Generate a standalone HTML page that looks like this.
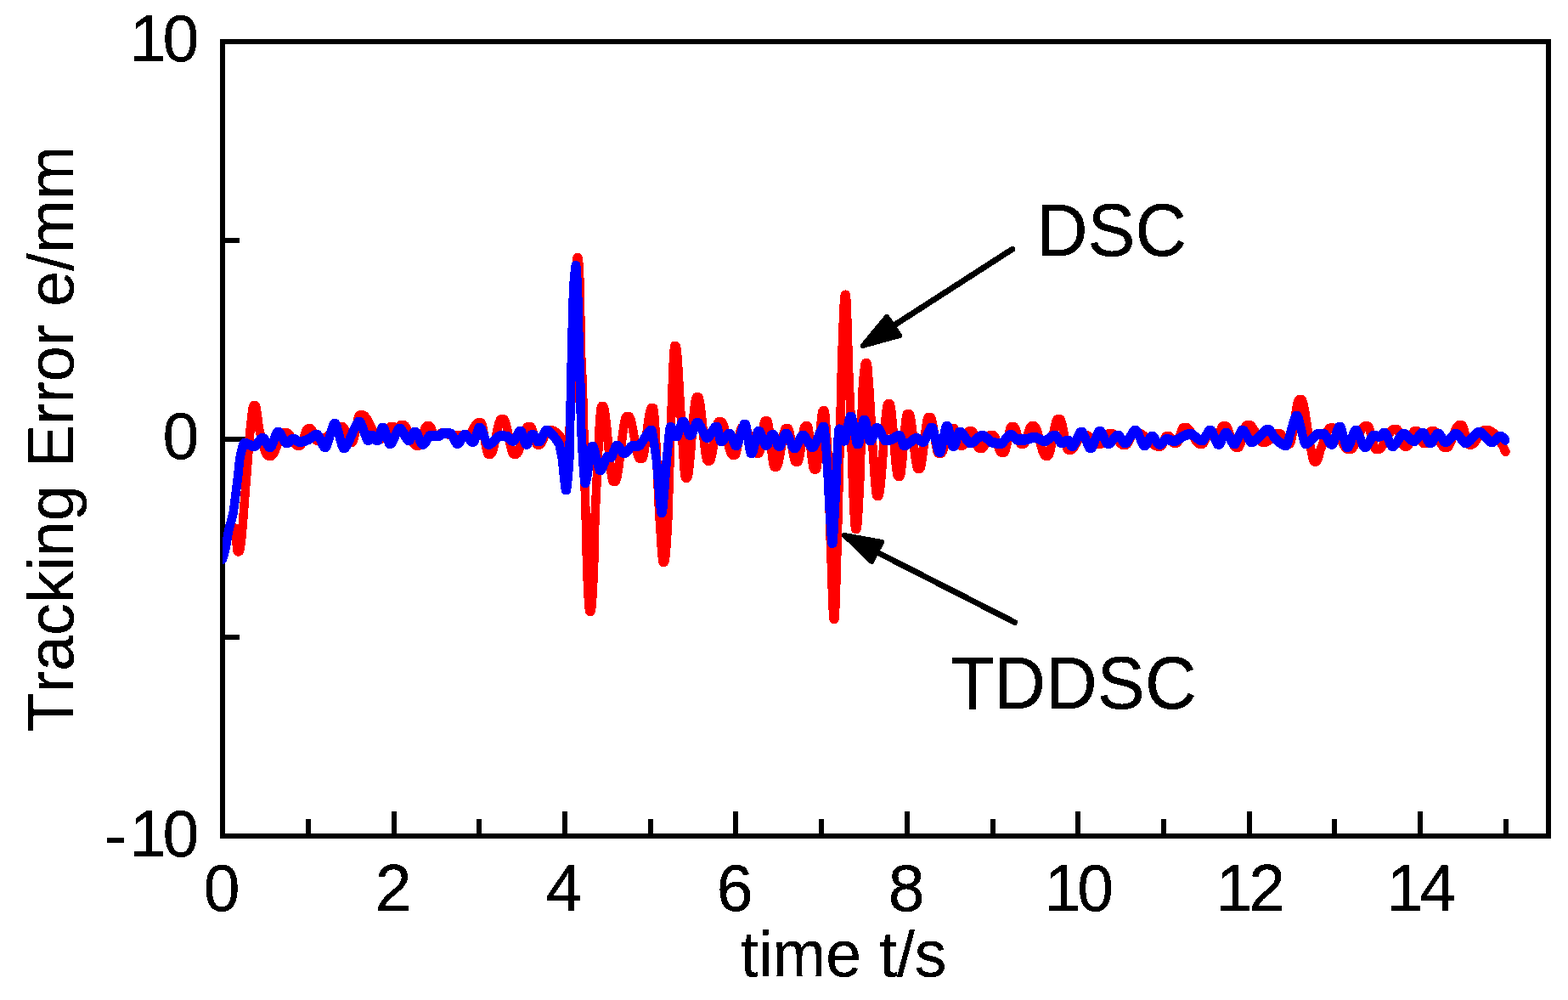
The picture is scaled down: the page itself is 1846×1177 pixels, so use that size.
<!DOCTYPE html>
<html lang="en">
<head>
<meta charset="utf-8">
<title>Tracking Error: DSC vs TDDSC</title>
<style>
html,body{margin:0;padding:0;background:#fff;}
body{width:1846px;height:1177px;overflow:hidden;}
svg{display:block;}
</style>
</head>
<body>
<svg width="1846" height="1177" viewBox="0 0 1846 1177">
<rect width="1846" height="1177" fill="#fff"/>
<defs><clipPath id="plot"><rect x="262" y="49" width="1561" height="935"/></clipPath><filter id="hard" filterUnits="userSpaceOnUse" x="0" y="0" width="1846" height="1177" color-interpolation-filters="sRGB"><feComponentTransfer><feFuncA type="discrete" tableValues="0 1"/></feComponentTransfer></filter></defs>
<rect x="262" y="49" width="1561" height="935" fill="none" stroke="#000" stroke-width="6"/>
<path d="M262.0 984 V955.0 M363.0 984 V964.0 M464.0 984 V955.0 M564.0 984 V964.0 M665.0 984 V955.0 M766.0 984 V964.0 M866.0 984 V955.0 M967.0 984 V964.0 M1068.0 984 V955.0 M1169.0 984 V964.0 M1269.0 984 V955.0 M1370.0 984 V964.0 M1471.0 984 V955.0 M1571.0 984 V964.0 M1672.0 984 V955.0 M1773.0 984 V964.0 M262 49.0 H291.0 M262 283.0 H282.0 M262 517.0 H291.0 M262 750.0 H282.0 M262 984.0 H291.0" fill="none" stroke="#000" stroke-width="6"/>
<g clip-path="url(#plot)" fill="none" stroke-width="10.5" stroke-linejoin="round" stroke-linecap="round" shape-rendering="crispEdges">
<path stroke="#f00" d="M262.0 658.4 L262.5 655.76 L263.0 653.2 L263.5 650.72 L264.0 648.34 L264.5 646.04 L265.0 643.83 L265.5 641.72 L266.0 639.7 L266.5 637.78 L267.0 635.96 L267.5 634.24 L268.0 632.61 L268.5 631.1 L269.0 629.68 L269.5 628.38 L270.0 627.18 L270.5 626.09 L271.0 625.12 L271.5 624.26 L272.0 623.51 L272.5 622.89 L273.0 622.38 L273.5 621.99 L274.0 621.72 L274.5 621.58 L274.8 621.56 L275.0 621.56 L275.5 621.56 L276.0 621.56 L276.5 621.56 L276.8 621.56 L277.0 622.04 L277.5 625.69 L278.0 631.71 L278.5 638.55 L279.0 644.72 L279.5 648.68 L279.8 649.37 L280.0 649.37 L280.5 649.37 L281.0 649.37 L281.2 649.37 L281.5 649.2 L282.0 648.16 L282.5 646.24 L283.0 643.51 L283.5 640.05 L284.0 635.92 L284.5 631.22 L285.0 626.01 L285.5 620.37 L286.0 614.38 L286.5 608.11 L287.0 601.64 L287.5 595.04 L288.0 588.39 L288.5 581.77 L289.0 575.25 L289.5 568.9 L290.0 562.81 L290.2 560 L290.5 556.88 L291.0 550.42 L291.5 543.76 L291.9 539 L292.0 537.37 L292.5 530.94 L293.0 524.47 L293.5 518.19 L294.0 512.35 L294.5 507.21 L294.6 506.38 L295.0 502.55 L295.5 497.71 L296.0 492.91 L296.5 488.36 L297.0 484.3 L297.5 480.94 L298.0 478.53 L298.5 477.27 L298.7 477.15 L299.0 477.15 L299.5 477.15 L300.0 477.15 L300.5 477.15 L300.5 477.15 L301.0 477.77 L301.5 479.54 L302.0 482.22 L302.5 485.58 L303.0 489.38 L303.5 493.37 L304.0 497.33 L304.5 501 L305.0 504.15 L305.5 506.38 L305.5 506.54 L306.0 508.56 L306.5 510.6 L307.0 512.63 L307.5 514.65 L308.0 516.66 L308.5 518.63 L309.0 520.56 L309.5 522.43 L310.0 524.24 L310.5 525.97 L311.0 527.62 L311.5 529.16 L312.0 530.6 L312.5 531.91 L313.0 533.09 L313.5 534.13 L314.0 535.02 L314.5 535.74 L315.0 536.28 L315.5 536.64 L316.0 536.79 L316.1 536.8 L316.5 536.8 L317.0 536.8 L317.5 536.8 L318.0 536.8 L318.5 536.8 L318.9 536.8 L319.0 536.8 L319.5 536.68 L320.0 536.41 L320.5 535.99 L321.0 535.43 L321.5 534.75 L322.0 533.95 L322.5 533.05 L323.0 532.06 L323.5 530.99 L324.0 529.85 L324.5 528.65 L325.0 527.4 L325.5 526.12 L326.0 524.81 L326.5 523.48 L327.0 522.15 L327.5 520.83 L328.0 519.52 L328.5 518.25 L329.0 517.02 L329.5 515.83 L330.0 514.71 L330.5 513.66 L331.0 512.7 L331.5 511.83 L332.0 511.07 L332.5 510.42 L333.0 509.9 L333.5 509.53 L334.0 509.3 L334.4 509.23 L334.5 509.23 L335.0 509.23 L335.5 509.23 L336.0 509.23 L336.5 509.23 L337.0 509.23 L337.5 509.23 L337.5 509.23 L338.0 509.3 L338.5 509.51 L339.0 509.83 L339.5 510.27 L340.0 510.8 L340.5 511.42 L341.0 512.11 L341.5 512.87 L342.0 513.68 L342.5 514.53 L343.0 515.42 L343.5 516.32 L344.0 517.22 L344.5 518.13 L345.0 519.01 L345.5 519.87 L346.0 520.69 L346.5 521.46 L347.0 522.17 L347.5 522.81 L348.0 523.36 L348.5 523.82 L349.0 524.17 L349.5 524.4 L350.0 524.51 L350.1 524.51 L350.5 524.51 L351.0 524.51 L351.5 524.51 L352.0 524.51 L352.5 524.51 L353.0 524.51 L353.1 524.51 L353.5 524.43 L354.0 524.05 L354.5 523.41 L355.0 522.53 L355.5 521.45 L356.0 520.21 L356.5 518.83 L357.0 517.35 L357.5 515.81 L358.0 514.24 L358.5 512.67 L359.0 511.14 L359.5 509.68 L360.0 508.33 L360.5 507.12 L361.0 506.09 L361.5 505.26 L362.0 504.68 L362.5 504.38 L362.7 504.34 L363.0 504.34 L363.5 504.34 L364.0 504.34 L364.5 504.34 L365.0 504.34 L365.5 504.34 L365.7 504.34 L366.0 504.44 L366.5 504.92 L367.0 505.75 L367.5 506.85 L368.0 508.17 L368.5 509.63 L369.0 511.17 L369.5 512.72 L370.0 514.22 L370.5 515.59 L371.0 516.78 L371.5 517.7 L372.0 518.31 L372.5 518.53 L372.5 518.53 L373.0 518.53 L373.5 518.53 L374.0 518.53 L374.5 518.53 L375.0 518.53 L375.5 518.53 L375.6 518.53 L376.0 518.52 L376.5 518.47 L377.0 518.39 L377.5 518.27 L378.0 518.12 L378.5 517.94 L379.0 517.73 L379.5 517.49 L380.0 517.22 L380.5 516.93 L381.0 516.61 L381.5 516.28 L382.0 515.92 L382.5 515.54 L383.0 515.14 L383.5 514.73 L384.0 514.31 L384.5 513.87 L385.0 513.42 L385.5 512.96 L386.0 512.49 L386.5 512.02 L387.0 511.54 L387.5 511.06 L388.0 510.57 L388.5 510.09 L389.0 509.6 L389.5 509.12 L390.0 508.64 L390.5 508.17 L391.0 507.71 L391.5 507.26 L392.0 506.81 L392.5 506.38 L393.0 505.96 L393.5 505.56 L394.0 505.17 L394.5 504.8 L395.0 504.45 L395.5 504.13 L396.0 503.82 L396.5 503.54 L397.0 503.29 L397.5 503.07 L398.0 502.87 L398.5 502.7 L399.0 502.57 L399.5 502.47 L400.0 502.41 L400.5 502.38 L400.6 502.38 L401.0 502.38 L401.5 502.38 L402.0 502.38 L402.5 502.38 L403.0 502.38 L403.5 502.38 L403.7 502.38 L404.0 502.46 L404.5 502.9 L405.0 503.68 L405.5 504.75 L406.0 506.06 L406.5 507.56 L407.0 509.18 L407.5 510.87 L408.0 512.59 L408.5 514.27 L409.0 515.87 L409.5 517.32 L410.0 518.58 L410.5 519.6 L411.0 520.31 L411.5 520.67 L411.7 520.7 L412.0 520.7 L412.5 520.7 L413.0 520.7 L413.5 520.7 L414.0 520.7 L414.4 520.7 L414.5 520.69 L415.0 520.33 L415.5 519.49 L416.0 518.23 L416.5 516.61 L417.0 514.68 L417.5 512.5 L418.0 510.13 L418.5 507.64 L419.0 505.07 L419.5 502.49 L420.0 499.95 L420.5 497.52 L421.0 495.25 L421.5 493.2 L422.0 491.42 L422.5 489.99 L423.0 488.95 L423.5 488.36 L423.8 488.25 L424.0 488.25 L424.5 488.25 L425.0 488.25 L425.5 488.25 L426.0 488.25 L426.5 488.25 L426.6 488.25 L427.0 488.28 L427.5 488.4 L428.0 488.62 L428.5 488.92 L429.0 489.31 L429.5 489.78 L430.0 490.31 L430.5 490.92 L431.0 491.59 L431.5 492.32 L432.0 493.1 L432.5 493.93 L433.0 494.8 L433.5 495.71 L434.0 496.65 L434.5 497.62 L435.0 498.62 L435.5 499.63 L436.0 500.66 L436.5 501.69 L437.0 502.72 L437.5 503.76 L438.0 504.79 L438.5 505.8 L439.0 506.8 L439.5 507.77 L440.0 508.72 L440.5 509.64 L441.0 510.52 L441.5 511.35 L442.0 512.14 L442.5 512.88 L443.0 513.56 L443.5 514.18 L444.0 514.73 L444.5 515.21 L445.0 515.61 L445.5 515.93 L446.0 516.17 L446.5 516.31 L447.0 516.35 L447.0 516.35 L447.5 516.35 L448.0 516.35 L448.5 516.35 L449.0 516.35 L449.5 516.35 L450.0 516.35 L450.0 516.35 L450.5 516.26 L451.0 515.98 L451.5 515.52 L452.0 514.91 L452.5 514.18 L453.0 513.33 L453.5 512.4 L454.0 511.4 L454.5 510.36 L455.0 509.29 L455.5 508.23 L456.0 507.18 L456.5 506.18 L457.0 505.24 L457.5 504.39 L458.0 503.65 L458.5 503.03 L459.0 502.56 L459.5 502.27 L460.0 502.17 L460.0 502.17 L460.5 502.17 L461.0 502.17 L461.5 502.17 L462.0 502.17 L462.5 502.17 L463.0 502.17 L463.1 502.17 L463.5 502.27 L464.0 502.6 L464.5 503.02 L465.0 503.36 L465.4 503.47 L465.5 503.47 L466.0 503.47 L466.5 503.47 L467.0 503.47 L467.5 503.47 L468.0 503.47 L468.5 503.47 L468.7 503.47 L469.0 503.36 L469.5 502.9 L470.0 502.21 L470.5 501.44 L471.0 500.76 L471.5 500.31 L471.8 500.21 L472.0 500.21 L472.5 500.21 L473.0 500.21 L473.5 500.21 L474.0 500.21 L474.5 500.21 L475.0 500.21 L475.0 500.21 L475.5 500.29 L476.0 500.52 L476.5 500.9 L477.0 501.4 L477.5 502.02 L478.0 502.76 L478.5 503.59 L479.0 504.5 L479.5 505.49 L480.0 506.55 L480.5 507.66 L481.0 508.81 L481.5 510 L482.0 511.2 L482.5 512.42 L483.0 513.64 L483.5 514.84 L484.0 516.02 L484.5 517.17 L485.0 518.28 L485.5 519.33 L486.0 520.31 L486.5 521.22 L487.0 522.04 L487.5 522.76 L488.0 523.37 L488.5 523.87 L489.0 524.23 L489.5 524.44 L490.0 524.51 L490.0 524.51 L490.5 524.51 L491.0 524.51 L491.5 524.51 L492.0 524.51 L492.5 524.51 L492.9 524.51 L493.0 524.5 L493.5 524.22 L494.0 523.62 L494.5 522.73 L495.0 521.61 L495.5 520.27 L496.0 518.77 L496.5 517.13 L497.0 515.4 L497.5 513.62 L498.0 511.83 L498.5 510.06 L499.0 508.34 L499.5 506.73 L500.0 505.26 L500.5 503.96 L501.0 502.88 L501.5 502.05 L502.0 501.51 L502.5 501.3 L502.5 501.3 L503.0 501.3 L503.5 501.3 L504.0 501.3 L504.5 501.3 L505.0 501.3 L505.5 501.3 L505.5 501.3 L506.0 501.5 L506.5 502.04 L507.0 502.84 L507.5 503.85 L508.0 505.02 L508.5 506.29 L509.0 507.6 L509.5 508.89 L510.0 510.11 L510.5 511.19 L511.0 512.08 L511.5 512.72 L512.0 513.05 L512.2 513.09 L512.5 513.09 L513.0 513.09 L513.5 513.09 L514.0 513.09 L514.5 513.09 L515.0 513.09 L515.4 513.09 L515.5 513.09 L516.0 512.9 L516.5 512.5 L517.0 511.95 L517.5 511.33 L518.0 510.69 L518.5 510.13 L519.0 509.69 L519.5 509.47 L519.7 509.45 L520.0 509.45 L520.5 509.45 L521.0 509.45 L521.5 509.45 L522.0 509.45 L522.5 509.45 L523.0 509.45 L523.1 509.45 L523.5 509.49 L524.0 509.63 L524.5 509.84 L525.0 510.11 L525.5 510.4 L526.0 510.7 L526.5 510.98 L527.0 511.21 L527.5 511.39 L527.9 511.46 L528.0 511.47 L528.5 511.53 L529.0 511.58 L529.5 511.62 L530.0 511.66 L530.5 511.69 L531.0 511.72 L531.5 511.75 L532.0 511.78 L532.5 511.8 L533.0 511.82 L533.5 511.84 L534.0 511.86 L534.5 511.88 L535.0 511.89 L535.5 511.91 L536.0 511.93 L536.5 511.96 L537.0 511.98 L537.5 512 L538.0 512.03 L538.5 512.06 L539.0 512.1 L539.5 512.14 L539.8 512.17 L540.0 512.19 L540.5 512.25 L541.0 512.33 L541.5 512.42 L542.0 512.53 L542.5 512.64 L543.0 512.75 L543.5 512.86 L544.0 512.97 L544.5 513.07 L545.0 513.15 L545.5 513.23 L546.0 513.28 L546.5 513.31 L546.8 513.31 L547.0 513.31 L547.5 513.31 L548.0 513.31 L548.5 513.31 L549.0 513.31 L549.5 513.31 L550.0 513.31 L550.1 513.31 L550.5 513.27 L551.0 513.1 L551.5 512.81 L552.0 512.41 L552.5 511.92 L553.0 511.33 L553.5 510.67 L554.0 509.94 L554.5 509.16 L555.0 508.32 L555.5 507.46 L556.0 506.56 L556.5 505.65 L557.0 504.74 L557.5 503.84 L558.0 502.95 L558.5 502.09 L559.0 501.26 L559.5 500.49 L560.0 499.77 L560.5 499.12 L561.0 498.56 L561.5 498.08 L562.0 497.7 L562.5 497.44 L563.0 497.29 L563.3 497.27 L563.5 497.27 L564.0 497.27 L564.5 497.27 L565.0 497.27 L565.5 497.27 L566.0 497.27 L566.1 497.27 L566.5 497.52 L567.0 498.39 L567.5 499.8 L568.0 501.69 L568.5 503.97 L569.0 506.57 L569.5 509.41 L570.0 512.42 L570.5 515.51 L571.0 518.61 L571.5 521.65 L572.0 524.54 L572.5 527.22 L573.0 529.6 L573.5 531.6 L574.0 533.16 L574.5 534.19 L575.0 534.61 L575.1 534.62 L575.5 534.62 L576.0 534.62 L576.5 534.62 L577.0 534.62 L577.5 534.62 L577.6 534.62 L578.0 534.47 L578.5 533.97 L579.0 533.13 L579.5 531.99 L580.0 530.59 L580.5 528.94 L581.0 527.09 L581.5 525.06 L582.0 522.89 L582.5 520.6 L583.0 518.22 L583.5 515.79 L584.0 513.34 L584.5 510.89 L585.0 508.48 L585.5 506.14 L586.0 503.9 L586.5 501.78 L587.0 499.83 L587.5 498.07 L588.0 496.52 L588.5 495.23 L589.0 494.22 L589.5 493.53 L590.0 493.18 L590.2 493.14 L590.5 493.14 L591.0 493.14 L591.5 493.14 L592.0 493.14 L592.5 493.14 L592.8 493.14 L593.0 493.19 L593.5 493.58 L594.0 494.34 L594.5 495.44 L595.0 496.84 L595.5 498.5 L596.0 500.4 L596.5 502.49 L597.0 504.75 L597.5 507.13 L598.0 509.61 L598.5 512.14 L599.0 514.7 L599.5 517.25 L600.0 519.75 L600.5 522.17 L601.0 524.47 L601.5 526.63 L602.0 528.6 L602.5 530.35 L603.0 531.85 L603.5 533.06 L604.0 533.95 L604.5 534.48 L604.9 534.62 L605.0 534.62 L605.5 534.62 L606.0 534.62 L606.5 534.62 L607.0 534.62 L607.5 534.62 L607.6 534.62 L608.0 534.53 L608.5 534.22 L609.0 533.69 L609.5 532.96 L610.0 532.05 L610.5 530.98 L611.0 529.77 L611.5 528.43 L612.0 526.98 L612.5 525.45 L613.0 523.83 L613.5 522.16 L614.0 520.45 L614.5 518.72 L615.0 516.99 L615.5 515.27 L616.0 513.58 L616.5 511.94 L617.0 510.36 L617.5 508.87 L618.0 507.48 L618.5 506.21 L619.0 505.08 L619.5 504.1 L620.0 503.29 L620.5 502.67 L621.0 502.26 L621.5 502.07 L621.6 502.06 L622.0 502.06 L622.5 502.06 L623.0 502.06 L623.5 502.06 L624.0 502.06 L624.4 502.06 L624.5 502.07 L625.0 502.37 L625.5 503.09 L626.0 504.18 L626.5 505.56 L627.0 507.19 L627.5 509 L628.0 510.92 L628.5 512.91 L629.0 514.89 L629.5 516.81 L630.0 518.61 L630.5 520.23 L631.0 521.6 L631.5 522.66 L632.0 523.36 L632.5 523.64 L632.5 523.64 L633.0 523.64 L633.5 523.64 L634.0 523.64 L634.5 523.64 L635.0 523.64 L635.4 523.64 L635.5 523.64 L636.0 523.48 L636.5 523.09 L637.0 522.49 L637.5 521.72 L638.0 520.8 L638.5 519.75 L639.0 518.6 L639.5 517.37 L640.0 516.1 L640.5 514.8 L641.0 513.5 L641.5 512.23 L642.0 511.02 L642.5 509.88 L643.0 508.85 L643.5 507.96 L644.0 507.21 L644.5 506.66 L645.0 506.31 L645.5 506.19 L645.5 506.19 L646.0 506.19 L646.5 506.19 L647.0 506.19 L647.5 506.19 L648.0 506.19 L648.5 506.19 L648.6 506.19 L649.0 506.2 L649.5 506.25 L650.0 506.33 L650.5 506.45 L651.0 506.6 L651.5 506.79 L652.0 507 L652.5 507.25 L653.0 507.54 L653.5 507.85 L654.0 508.19 L654.5 508.56 L655.0 508.96 L655.5 509.39 L656.0 509.84 L656.5 510.32 L657.0 510.82 L657.5 511.35 L658.0 511.9 L658.5 512.47 L659.0 513.06 L659.5 513.68 L660.0 514.31 L660.0 514.35 L660.5 515.26 L661.0 516.79 L661.5 518.78 L662.0 521.1 L662.5 523.6 L663.0 526.15 L663.5 528.61 L664.0 530.85 L664.5 532.74 L665.0 534.13 L665.5 534.9 L665.8 535 L666.0 535 L666.5 535 L667.0 535 L667.5 535 L667.6 535 L668.0 534.23 L668.5 531.58 L669.0 527.27 L669.5 521.55 L670.0 514.64 L670.5 506.79 L671.0 498.24 L671.5 489.23 L672.0 480 L672.5 468.14 L673.0 452.62 L673.5 435.8 L674.0 420 L674.5 404.99 L675.0 389.58 L675.5 374.67 L676.0 361.17 L676.5 350 L677.0 340.03 L677.5 330.01 L678.0 320.64 L678.5 312.6 L679.0 306.59 L679.5 303.3 L679.7 302.9 L680.0 302.9 L680.4 302.9 L680.5 303.05 L681.0 305.95 L681.5 312.21 L682.0 321.38 L682.5 333.01 L682.8 341 L683.0 350.4 L683.5 390.13 L683.8 408 L684.0 414.36 L684.5 426.01 L685.0 435.1 L685.5 446 L686.0 460.17 L686.5 476.19 L687.0 494.17 L687.1 498 L687.5 515.74 L688.0 541.59 L688.5 566.99 L688.8 580 L689.0 587.33 L689.5 603.25 L690.0 620 L690.5 643.28 L691.0 665.14 L691.1 668 L691.5 677.77 L692.0 689.23 L692.5 699.46 L693.0 708.05 L693.5 714.6 L694.0 718.68 L694.4 719.9 L694.5 719.9 L695.0 719.9 L695.3 719.9 L695.5 719.64 L696.0 717.49 L696.5 713.35 L697.0 707.44 L697.5 699.97 L698.0 691.14 L698.5 681.17 L699.0 670.27 L699.1 668 L699.5 652.76 L700.0 627.69 L700.2 620 L700.5 611.2 L701.0 598.66 L701.5 587.93 L701.9 580 L702.0 578.03 L702.5 567.89 L703.0 557.39 L703.5 546.76 L704.0 536.18 L704.5 525.87 L705.0 516.04 L705.5 506.88 L706.0 498.62 L706.5 491.44 L707.0 485.57 L707.5 481.21 L708.0 478.55 L708.4 477.8 L708.5 477.8 L709.0 477.8 L709.5 477.8 L709.9 477.8 L710.0 477.81 L710.5 478.37 L711.0 479.74 L711.5 481.85 L712.0 484.62 L712.5 487.97 L713.0 491.85 L713.5 496.16 L714.0 500.85 L714.5 505.84 L715.0 511.05 L715.5 516.41 L716.0 521.85 L716.5 527.31 L717.0 532.69 L717.5 537.94 L718.0 542.97 L718.5 547.73 L719.0 552.12 L719.5 556.09 L720.0 559.56 L720.5 562.45 L721.0 564.69 L721.5 566.21 L722.0 566.95 L722.2 567 L722.5 567 L723.0 567 L723.5 567 L724.0 567 L724.1 567 L724.5 566.84 L725.0 566.13 L725.5 564.87 L726.0 563.12 L726.5 560.93 L727.0 558.33 L727.5 555.37 L728.0 552.1 L728.5 548.56 L729.0 544.8 L729.5 540.86 L730.0 536.78 L730.5 532.61 L731.0 528.4 L731.5 524.19 L732.0 520.02 L732.5 515.94 L733.0 512 L733.5 508.24 L734.0 504.7 L734.5 501.43 L735.0 498.47 L735.5 495.87 L736.0 493.68 L736.5 491.93 L737.0 490.67 L737.5 489.96 L737.9 489.8 L738.0 489.8 L738.5 489.8 L739.0 489.8 L739.5 489.8 L740.0 489.8 L740.1 489.8 L740.5 489.92 L741.0 490.44 L741.5 491.32 L742.0 492.55 L742.5 494.08 L743.0 495.88 L743.5 497.93 L744.0 500.19 L744.5 502.62 L745.0 505.2 L745.5 507.89 L746.0 510.66 L746.5 513.48 L747.0 516.32 L747.5 519.14 L748.0 521.91 L748.5 524.6 L749.0 527.18 L749.5 529.61 L750.0 531.87 L750.5 533.92 L751.0 535.72 L751.5 537.25 L752.0 538.48 L752.5 539.36 L753.0 539.88 L753.4 540 L753.5 540 L754.0 540 L754.5 540 L755.0 540 L755.5 540 L755.7 540 L756.0 539.86 L756.5 539.12 L757.0 537.79 L757.5 535.93 L758.0 533.59 L758.5 530.85 L759.0 527.76 L759.5 524.38 L760.0 520.77 L760.5 516.99 L761.0 513.1 L761.5 509.16 L762.0 505.24 L762.5 501.38 L763.0 497.67 L763.5 494.14 L764.0 490.87 L764.5 487.91 L765.0 485.32 L765.5 483.17 L766.0 481.51 L766.5 480.41 L767.0 479.92 L767.1 479.9 L767.5 479.9 L768.0 479.9 L768.5 479.9 L768.7 479.9 L769.0 480.18 L769.5 482.26 L770.0 486.19 L770.5 491.74 L771.0 498.72 L771.5 506.9 L772.0 516.08 L772.5 526.04 L773.0 536.58 L773.5 547.47 L774.0 558.51 L774.5 569.49 L775.0 580.19 L775.5 590.41 L776.0 599.92 L776.5 608.52 L777.0 616 L777.5 623.34 L778.0 631.3 L778.5 639.35 L779.0 646.93 L779.5 653.51 L780.0 658.53 L780.5 661.47 L780.8 662 L781.0 662 L781.5 662 L781.9 662 L782.0 661.96 L782.5 660.71 L783.0 657.88 L783.5 653.63 L784.0 648.17 L784.5 641.67 L785.0 634.31 L785.5 626.27 L786.0 617.75 L786.1 616 L786.5 606.22 L787.0 589.71 L787.3 580 L787.5 573.91 L788.0 558.17 L788.5 542.15 L789.0 526.41 L789.5 511.5 L790.0 497.99 L790.1 495.5 L790.5 485.36 L791.0 472.01 L791.5 458.46 L792.0 445.33 L792.5 433.22 L793.0 422.71 L793.5 414.43 L794.0 408.96 L794.5 406.9 L794.5 406.9 L795.0 406.9 L795.5 406.9 L795.5 406.9 L796.0 407.83 L796.5 410.66 L797.0 415.15 L797.5 421.05 L798.0 428.09 L798.5 436.04 L799.0 444.62 L799.5 453.6 L800.0 462.72 L800.5 471.72 L801.0 480.35 L801.5 488.36 L802.0 495.5 L802.5 502.63 L803.0 510.57 L803.5 518.97 L804.0 527.51 L804.5 535.84 L805.0 543.62 L805.5 550.52 L806.0 556.19 L806.5 560.3 L807.0 562.51 L807.2 562.8 L807.5 562.8 L808.0 562.8 L808.5 562.8 L808.8 562.8 L809.0 562.67 L809.5 561.64 L810.0 559.64 L810.5 556.78 L811.0 553.15 L811.5 548.85 L812.0 543.97 L812.5 538.62 L813.0 532.89 L813.5 526.88 L814.0 520.68 L814.5 514.4 L815.0 508.13 L815.5 501.96 L816.0 495.99 L816.5 490.33 L817.0 485.07 L817.5 480.3 L818.0 476.13 L818.5 472.64 L819.0 469.95 L819.5 468.13 L820.0 467.3 L820.1 467.26 L820.5 467.26 L821.0 467.26 L821.5 467.26 L822.0 467.26 L822.0 467.26 L822.5 467.77 L823.0 469.1 L823.5 471.18 L824.0 473.92 L824.5 477.23 L825.0 481.05 L825.5 485.28 L826.0 489.84 L826.5 494.66 L827.0 499.64 L827.5 504.71 L828.0 509.78 L828.5 514.78 L829.0 519.62 L829.5 524.21 L830.0 528.48 L830.5 532.34 L831.0 535.71 L831.5 538.51 L832.0 540.65 L832.5 542.06 L833.0 542.66 L833.1 542.67 L833.5 542.67 L834.0 542.67 L834.5 542.67 L835.0 542.67 L835.2 542.67 L835.5 542.6 L836.0 542.06 L836.5 541.04 L837.0 539.59 L837.5 537.76 L838.0 535.6 L838.5 533.16 L839.0 530.49 L839.5 527.63 L840.0 524.64 L840.5 521.57 L841.0 518.46 L841.5 515.37 L842.0 512.34 L842.5 509.43 L843.0 506.68 L843.5 504.15 L844.0 501.87 L844.5 499.91 L845.0 498.31 L845.5 497.13 L846.0 496.4 L846.5 496.18 L846.5 496.18 L847.0 496.18 L847.5 496.18 L848.0 496.18 L848.5 496.18 L849.0 496.18 L849.0 496.18 L849.5 496.36 L850.0 496.83 L850.5 497.57 L851.0 498.56 L851.5 499.77 L852.0 501.18 L852.5 502.76 L853.0 504.5 L853.5 506.36 L854.0 508.34 L854.5 510.39 L855.0 512.51 L855.5 514.67 L856.0 516.83 L856.5 518.99 L857.0 521.12 L857.5 523.19 L858.0 525.18 L858.5 527.07 L859.0 528.83 L859.5 530.44 L860.0 531.88 L860.5 533.13 L861.0 534.16 L861.5 534.94 L862.0 535.47 L862.5 535.7 L862.6 535.71 L863.0 535.71 L863.5 535.71 L864.0 535.71 L864.5 535.71 L865.0 535.71 L865.2 535.71 L865.5 535.58 L866.0 534.85 L866.5 533.57 L867.0 531.8 L867.5 529.64 L868.0 527.16 L868.5 524.45 L869.0 521.6 L869.5 518.68 L870.0 515.77 L870.5 512.97 L871.0 510.36 L871.5 508.01 L872.0 506.01 L872.5 504.44 L873.0 503.39 L873.5 502.94 L873.6 502.93 L874.0 502.93 L874.5 502.93 L875.0 502.93 L875.5 502.93 L876.0 502.93 L876.3 502.93 L876.5 502.96 L877.0 503.16 L877.5 503.56 L878.0 504.15 L878.5 504.89 L879.0 505.79 L879.5 506.82 L880.0 507.97 L880.5 509.23 L881.0 510.57 L881.5 512 L882.0 513.48 L882.5 515.01 L883.0 516.57 L883.5 518.14 L884.0 519.72 L884.5 521.28 L885.0 522.81 L885.5 524.3 L886.0 525.73 L886.5 527.09 L887.0 528.35 L887.5 529.52 L888.0 530.56 L888.5 531.48 L889.0 532.24 L889.5 532.84 L890.0 533.27 L890.5 533.5 L890.8 533.54 L891.0 533.54 L891.5 533.54 L892.0 533.54 L892.5 533.54 L893.0 533.54 L893.4 533.54 L893.5 533.5 L894.0 532.77 L894.5 531.19 L895.0 528.9 L895.5 526.05 L896.0 522.75 L896.5 519.15 L897.0 515.38 L897.5 511.57 L898.0 507.87 L898.5 504.41 L899.0 501.31 L899.5 498.72 L900.0 496.77 L900.5 495.6 L900.9 495.31 L901.0 495.31 L901.5 495.31 L902.0 495.31 L902.5 495.31 L903.0 495.31 L903.0 495.31 L903.5 495.72 L904.0 497.07 L904.5 499.23 L905.0 502.1 L905.5 505.56 L906.0 509.47 L906.5 513.74 L907.0 518.23 L907.5 522.83 L908.0 527.42 L908.5 531.88 L909.0 536.09 L909.5 539.93 L910.0 543.29 L910.5 546.04 L911.0 548.07 L911.5 549.26 L911.9 549.52 L912.0 549.52 L912.5 549.52 L913.0 549.52 L913.5 549.52 L914.0 549.52 L914.1 549.52 L914.5 549.34 L915.0 548.67 L915.5 547.55 L916.0 546.02 L916.5 544.13 L917.0 541.94 L917.5 539.48 L918.0 536.82 L918.5 533.98 L919.0 531.04 L919.5 528.03 L920.0 525 L920.5 522 L921.0 519.07 L921.5 516.28 L922.0 513.66 L922.5 511.26 L923.0 509.13 L923.5 507.33 L924.0 505.89 L924.5 504.87 L925.0 504.32 L925.3 504.23 L925.5 504.23 L926.0 504.23 L926.5 504.23 L927.0 504.23 L927.5 504.23 L927.7 504.23 L928.0 504.38 L928.5 505.15 L929.0 506.51 L929.5 508.38 L930.0 510.68 L930.5 513.33 L931.0 516.25 L931.5 519.36 L932.0 522.58 L932.5 525.84 L933.0 529.05 L933.5 532.13 L934.0 535 L934.5 537.59 L935.0 539.81 L935.5 541.58 L936.0 542.83 L936.5 543.47 L936.7 543.54 L937.0 543.54 L937.5 543.54 L938.0 543.54 L938.5 543.54 L939.0 543.54 L939.1 543.54 L939.5 543.26 L940.0 542.3 L940.5 540.73 L941.0 538.64 L941.5 536.11 L942.0 533.22 L942.5 530.06 L943.0 526.71 L943.5 523.25 L944.0 519.78 L944.5 516.37 L945.0 513.11 L945.5 510.08 L946.0 507.37 L946.5 505.05 L947.0 503.22 L947.5 501.96 L948.0 501.34 L948.2 501.3 L948.5 501.3 L949.0 501.3 L949.5 501.3 L950.0 501.3 L950.4 501.3 L950.5 501.34 L951.0 502.17 L951.5 503.94 L952.0 506.53 L952.5 509.79 L953.0 513.6 L953.5 517.82 L954.0 522.31 L954.5 526.93 L955.0 531.55 L955.5 536.03 L956.0 540.24 L956.5 544.04 L957.0 547.29 L957.5 549.86 L958.0 551.62 L958.5 552.42 L958.6 552.46 L959.0 552.46 L959.5 552.46 L960.0 552.46 L960.5 552.46 L960.6 552.46 L961.0 551.92 L961.5 550.11 L962.0 547.19 L962.5 543.32 L963.0 538.67 L963.5 533.42 L964.0 527.72 L964.5 521.75 L965.0 515.66 L965.5 509.64 L966.0 503.84 L966.5 498.44 L967.0 493.59 L967.5 489.47 L968.0 486.25 L968.5 484.09 L969.0 483.15 L969.1 483.13 L969.5 483.13 L970.0 483.13 L970.4 483.13 L970.5 483.2 L971.0 485.28 L971.5 489.81 L972.0 496.09 L972.5 503.46 L973.0 511.24 L973.4 517.3 L973.5 518.78 L974.0 526.77 L974.5 535.88 L975.0 546.29 L975.5 558.22 L975.6 560.8 L976.0 573.61 L976.5 593.54 L977.0 613.27 L977.2 620 L977.5 628.91 L978.0 642.36 L978.3 650 L978.5 655.26 L979.0 669.74 L979.5 685.04 L980.0 699.87 L980.5 712.9 L981.0 722.82 L981.5 728.32 L981.7 729 L982.0 729 L982.2 729 L982.5 728.02 L983.0 721.67 L983.5 710.6 L984.0 696.2 L984.5 679.87 L985.0 662.98 L985.4 650 L985.5 646.74 L986.0 627.79 L986.2 620 L986.5 608.59 L987.0 589.43 L987.5 570 L988.0 550.23 L988.5 530.19 L989.0 510.01 L989.5 489.84 L989.9 473.8 L990.0 469.72 L990.5 448.31 L991.0 430 L991.5 415.22 L992.0 400.47 L992.5 386.36 L993.0 373.5 L993.5 362.5 L994.0 353.96 L994.5 348.49 L995.0 346.7 L995.0 346.7 L995.5 346.7 L995.6 346.7 L996.0 348.55 L996.5 355.7 L997.0 367.11 L997.5 381.59 L998.0 397.92 L998.5 414.93 L999.0 431.41 L999.5 446.17 L1000.0 458 L1000.5 466.56 L1000.9 473.8 L1001.0 476.01 L1001.5 489.36 L1002.0 505.49 L1002.5 522.98 L1003.0 540.42 L1003.5 556.39 L1004.0 569.46 L1004.1 571.6 L1004.5 579.99 L1005.0 590.64 L1005.5 600.81 L1006.0 609.82 L1006.5 616.98 L1007.0 621.59 L1007.4 623 L1007.5 623 L1008.0 623 L1008.2 623 L1008.5 622.62 L1009.0 619.87 L1009.5 614.83 L1010.0 607.98 L1010.5 599.77 L1011.0 590.66 L1011.5 581.12 L1012.0 571.6 L1012.5 559.94 L1013.0 544.58 L1013.5 526.91 L1014.0 508.3 L1014.5 490.12 L1015.0 473.76 L1015.5 460.59 L1016.0 452 L1016.5 446.27 L1017.0 440.91 L1017.5 436.13 L1018.0 432.14 L1018.5 429.14 L1019.0 427.34 L1019.4 426.9 L1019.5 426.9 L1020.0 426.9 L1020.4 426.9 L1020.5 427 L1021.0 429.32 L1021.5 434.02 L1022.0 440.17 L1022.5 446.87 L1022.9 452 L1023.0 453.24 L1023.5 460.16 L1024.0 468.07 L1024.5 476.68 L1025.0 485.68 L1025.5 494.8 L1026.0 503.74 L1026.5 512.2 L1027.0 519.9 L1027.2 522.7 L1027.5 526.87 L1028.0 534.22 L1028.5 541.83 L1029.0 549.49 L1029.5 556.94 L1030.0 563.94 L1030.5 570.27 L1031.0 575.67 L1031.5 579.92 L1032.0 582.76 L1032.5 583.97 L1032.6 584 L1033.0 584 L1033.5 584 L1034.0 584 L1034.1 584 L1034.5 583.61 L1035.0 582.1 L1035.5 579.54 L1036.0 576.05 L1036.5 571.73 L1037.0 566.69 L1037.5 561.03 L1038.0 554.87 L1038.5 548.31 L1039.0 541.46 L1039.5 534.42 L1040.0 527.32 L1040.5 520.24 L1041.0 513.3 L1041.5 506.61 L1042.0 500.28 L1042.5 494.41 L1043.0 489.11 L1043.5 484.48 L1044.0 480.65 L1044.5 477.7 L1045.0 475.76 L1045.5 474.92 L1045.6 474.9 L1046.0 474.9 L1046.5 474.9 L1047.0 474.9 L1047.3 474.9 L1047.5 475.04 L1048.0 476.19 L1048.5 478.41 L1049.0 481.57 L1049.5 485.56 L1050.0 490.24 L1050.5 495.5 L1051.0 501.21 L1051.5 507.26 L1052.0 513.51 L1052.5 519.85 L1053.0 526.16 L1053.5 532.3 L1054.0 538.16 L1054.5 543.62 L1055.0 548.55 L1055.5 552.83 L1056.0 556.33 L1056.5 558.94 L1057.0 560.54 L1057.4 561 L1057.5 561 L1058.0 561 L1058.5 561 L1059.0 561 L1059.2 561 L1059.5 560.75 L1060.0 559.35 L1060.5 556.86 L1061.0 553.41 L1061.5 549.15 L1062.0 544.24 L1062.5 538.81 L1063.0 533.01 L1063.5 526.99 L1064.0 520.91 L1064.5 514.89 L1065.0 509.09 L1065.5 503.66 L1066.0 498.75 L1066.5 494.49 L1067.0 491.04 L1067.5 488.55 L1068.0 487.15 L1068.3 486.9 L1068.5 486.9 L1069.0 486.9 L1069.5 486.9 L1070.0 486.9 L1070.2 486.9 L1070.5 487.05 L1071.0 487.95 L1071.5 489.61 L1072.0 491.94 L1072.5 494.85 L1073.0 498.26 L1073.5 502.09 L1074.0 506.25 L1074.5 510.66 L1075.0 515.22 L1075.5 519.87 L1076.0 524.5 L1076.5 529.04 L1077.0 533.4 L1077.5 537.5 L1078.0 541.26 L1078.5 544.58 L1079.0 547.38 L1079.5 549.58 L1080.0 551.09 L1080.5 551.84 L1080.7 551.9 L1081.0 551.9 L1081.5 551.9 L1082.0 551.9 L1082.5 551.9 L1082.7 551.9 L1083.0 551.79 L1083.5 550.97 L1084.0 549.44 L1084.5 547.26 L1085.0 544.53 L1085.5 541.33 L1086.0 537.72 L1086.5 533.8 L1087.0 529.65 L1087.5 525.34 L1088.0 520.96 L1088.5 516.59 L1089.0 512.31 L1089.5 508.19 L1090.0 504.33 L1090.5 500.8 L1091.0 497.68 L1091.5 495.05 L1092.0 493 L1092.5 491.6 L1093.0 490.94 L1093.2 490.9 L1093.5 490.9 L1094.0 490.9 L1094.5 490.9 L1095.0 490.9 L1095.4 490.9 L1095.5 490.92 L1096.0 491.42 L1096.5 492.52 L1097.0 494.15 L1097.5 496.23 L1098.0 498.7 L1098.5 501.49 L1099.0 504.52 L1099.5 507.72 L1100.0 511.02 L1100.5 514.35 L1101.0 517.63 L1101.5 520.8 L1102.0 523.79 L1102.5 526.52 L1103.0 528.92 L1103.5 530.92 L1104.0 532.44 L1104.5 533.43 L1105.0 533.8 L1105.0 533.8 L1105.5 533.8 L1106.0 533.8 L1106.5 533.8 L1107.0 533.8 L1107.5 533.8 L1107.6 533.8 L1108.0 533.7 L1108.5 533.34 L1109.0 532.73 L1109.5 531.89 L1110.0 530.85 L1110.5 529.63 L1111.0 528.26 L1111.5 526.75 L1112.0 525.14 L1112.5 523.44 L1113.0 521.68 L1113.5 519.89 L1114.0 518.08 L1114.5 516.27 L1115.0 514.51 L1115.5 512.8 L1116.0 511.16 L1116.5 509.64 L1117.0 508.23 L1117.5 506.98 L1118.0 505.9 L1118.5 505.02 L1119.0 504.36 L1119.5 503.95 L1120.0 503.8 L1120.0 503.8 L1120.5 503.8 L1121.0 503.8 L1121.5 503.8 L1122.0 503.8 L1122.5 503.8 L1122.8 503.8 L1123.0 503.85 L1123.5 504.32 L1124.0 505.23 L1124.5 506.5 L1125.0 508.07 L1125.5 509.87 L1126.0 511.82 L1126.5 513.85 L1127.0 515.89 L1127.5 517.87 L1128.0 519.72 L1128.5 521.36 L1129.0 522.74 L1129.5 523.76 L1130.0 524.37 L1130.4 524.51 L1130.5 524.51 L1131.0 524.51 L1131.5 524.51 L1132.0 524.51 L1132.5 524.51 L1133.0 524.51 L1133.2 524.51 L1133.5 524.44 L1134.0 524.03 L1134.5 523.29 L1135.0 522.28 L1135.5 521.05 L1136.0 519.64 L1136.5 518.11 L1137.0 516.51 L1137.5 514.89 L1138.0 513.3 L1138.5 511.8 L1139.0 510.43 L1139.5 509.24 L1140.0 508.29 L1140.5 507.63 L1141.0 507.3 L1141.2 507.28 L1141.5 507.28 L1142.0 507.28 L1142.5 507.28 L1143.0 507.28 L1143.5 507.28 L1144.0 507.28 L1144.1 507.28 L1144.5 507.42 L1145.0 507.89 L1145.5 508.65 L1146.0 509.67 L1146.5 510.91 L1147.0 512.31 L1147.5 513.85 L1148.0 515.48 L1148.5 517.15 L1149.0 518.84 L1149.5 520.49 L1150.0 522.08 L1150.5 523.54 L1151.0 524.86 L1151.5 525.98 L1152.0 526.86 L1152.5 527.46 L1153.0 527.75 L1153.2 527.77 L1153.5 527.77 L1154.0 527.77 L1154.5 527.77 L1155.0 527.77 L1155.5 527.77 L1156.0 527.77 L1156.1 527.77 L1156.5 527.7 L1157.0 527.43 L1157.5 526.96 L1158.0 526.32 L1158.5 525.53 L1159.0 524.62 L1159.5 523.62 L1160.0 522.54 L1160.5 521.4 L1161.0 520.24 L1161.5 519.07 L1162.0 517.92 L1162.5 516.81 L1163.0 515.77 L1163.5 514.81 L1164.0 513.97 L1164.5 513.26 L1165.0 512.71 L1165.5 512.34 L1166.0 512.18 L1166.1 512.17 L1166.5 512.17 L1167.0 512.17 L1167.5 512.17 L1168.0 512.17 L1168.5 512.17 L1169.0 512.17 L1169.1 512.17 L1169.5 512.26 L1170.0 512.63 L1170.5 513.24 L1171.0 514.07 L1171.5 515.08 L1172.0 516.25 L1172.5 517.55 L1173.0 518.95 L1173.5 520.41 L1174.0 521.92 L1174.5 523.43 L1175.0 524.93 L1175.5 526.38 L1176.0 527.74 L1176.5 529 L1177.0 530.12 L1177.5 531.08 L1178.0 531.83 L1178.5 532.36 L1179.0 532.64 L1179.2 532.67 L1179.5 532.67 L1180.0 532.67 L1180.5 532.67 L1181.0 532.67 L1181.5 532.67 L1182.0 532.67 L1182.0 532.67 L1182.5 532.36 L1183.0 531.54 L1183.5 530.27 L1184.0 528.61 L1184.5 526.64 L1185.0 524.42 L1185.5 522.01 L1186.0 519.48 L1186.5 516.9 L1187.0 514.34 L1187.5 511.85 L1188.0 509.51 L1188.5 507.38 L1189.0 505.53 L1189.5 504.02 L1190.0 502.92 L1190.5 502.29 L1190.8 502.17 L1191.0 502.17 L1191.5 502.17 L1192.0 502.17 L1192.5 502.17 L1193.0 502.17 L1193.5 502.17 L1193.5 502.17 L1194.0 502.35 L1194.5 502.9 L1195.0 503.77 L1195.5 504.92 L1196.0 506.29 L1196.5 507.84 L1197.0 509.51 L1197.5 511.27 L1198.0 513.06 L1198.5 514.83 L1199.0 516.53 L1199.5 518.12 L1200.0 519.55 L1200.5 520.76 L1201.0 521.72 L1201.5 522.36 L1202.0 522.65 L1202.1 522.66 L1202.5 522.66 L1203.0 522.66 L1203.5 522.66 L1204.0 522.66 L1204.5 522.66 L1205.0 522.66 L1205.0 522.66 L1205.5 522.47 L1206.0 521.97 L1206.5 521.21 L1207.0 520.2 L1207.5 519 L1208.0 517.64 L1208.5 516.15 L1209.0 514.56 L1209.5 512.93 L1210.0 511.27 L1210.5 509.62 L1211.0 508.03 L1211.5 506.52 L1212.0 505.14 L1212.5 503.91 L1213.0 502.88 L1213.5 502.08 L1214.0 501.54 L1214.5 501.31 L1214.6 501.3 L1215.0 501.3 L1215.5 501.3 L1216.0 501.3 L1216.5 501.3 L1217.0 501.3 L1217.4 501.3 L1217.5 501.31 L1218.0 501.5 L1218.5 501.96 L1219.0 502.66 L1219.5 503.59 L1220.0 504.71 L1220.5 506 L1221.0 507.46 L1221.5 509.05 L1222.0 510.75 L1222.5 512.55 L1223.0 514.42 L1223.5 516.34 L1224.0 518.29 L1224.5 520.24 L1225.0 522.19 L1225.5 524.1 L1226.0 525.95 L1226.5 527.73 L1227.0 529.41 L1227.5 530.97 L1228.0 532.4 L1228.5 533.66 L1229.0 534.74 L1229.5 535.61 L1230.0 536.26 L1230.5 536.66 L1231.0 536.8 L1231.0 536.8 L1231.5 536.8 L1232.0 536.8 L1232.5 536.8 L1233.0 536.8 L1233.5 536.8 L1233.6 536.8 L1234.0 536.63 L1234.5 536.03 L1235.0 535.02 L1235.5 533.65 L1236.0 531.95 L1236.5 529.98 L1237.0 527.76 L1237.5 525.35 L1238.0 522.78 L1238.5 520.09 L1239.0 517.32 L1239.5 514.52 L1240.0 511.73 L1240.5 508.98 L1241.0 506.33 L1241.5 503.8 L1242.0 501.44 L1242.5 499.3 L1243.0 497.41 L1243.5 495.81 L1244.0 494.55 L1244.5 493.67 L1245.0 493.2 L1245.3 493.14 L1245.5 493.14 L1246.0 493.14 L1246.5 493.14 L1247.0 493.14 L1247.5 493.14 L1247.7 493.14 L1248.0 493.21 L1248.5 493.74 L1249.0 494.73 L1249.5 496.13 L1250.0 497.88 L1250.5 499.94 L1251.0 502.24 L1251.5 504.73 L1252.0 507.36 L1252.5 510.07 L1253.0 512.8 L1253.5 515.51 L1254.0 518.13 L1254.5 520.62 L1255.0 522.91 L1255.5 524.95 L1256.0 526.69 L1256.5 528.08 L1257.0 529.05 L1257.5 529.56 L1257.7 529.62 L1258.0 529.62 L1258.5 529.62 L1259.0 529.62 L1259.5 529.62 L1260.0 529.62 L1260.5 529.62 L1260.5 529.62 L1261.0 529.57 L1261.5 529.39 L1262.0 529.1 L1262.5 528.7 L1263.0 528.21 L1263.5 527.63 L1264.0 526.98 L1264.5 526.25 L1265.0 525.47 L1265.5 524.63 L1266.0 523.76 L1266.5 522.85 L1267.0 521.92 L1267.5 520.98 L1268.0 520.04 L1268.5 519.1 L1269.0 518.18 L1269.5 517.28 L1270.0 516.41 L1270.5 515.59 L1271.0 514.82 L1271.5 514.11 L1272.0 513.47 L1272.5 512.91 L1273.0 512.44 L1273.5 512.07 L1274.0 511.81 L1274.5 511.66 L1274.8 511.63 L1275.0 511.63 L1275.5 511.63 L1276.0 511.63 L1276.5 511.63 L1277.0 511.63 L1277.5 511.63 L1278.0 511.63 L1278.0 511.63 L1278.5 511.67 L1279.0 511.78 L1279.5 511.97 L1280.0 512.22 L1280.5 512.54 L1281.0 512.91 L1281.5 513.33 L1282.0 513.79 L1282.5 514.29 L1283.0 514.83 L1283.5 515.38 L1284.0 515.96 L1284.5 516.55 L1285.0 517.14 L1285.5 517.74 L1286.0 518.33 L1286.5 518.91 L1287.0 519.48 L1287.5 520.02 L1288.0 520.53 L1288.5 521.01 L1289.0 521.44 L1289.5 521.83 L1290.0 522.17 L1290.5 522.45 L1291.0 522.67 L1291.5 522.81 L1292.0 522.88 L1292.2 522.88 L1292.5 522.88 L1293.0 522.88 L1293.5 522.88 L1294.0 522.88 L1294.5 522.88 L1295.0 522.88 L1295.4 522.88 L1295.5 522.87 L1296.0 522.75 L1296.5 522.47 L1297.0 522.06 L1297.5 521.52 L1298.0 520.89 L1298.5 520.16 L1299.0 519.37 L1299.5 518.52 L1300.0 517.63 L1300.5 516.73 L1301.0 515.82 L1301.5 514.92 L1302.0 514.06 L1302.5 513.24 L1303.0 512.48 L1303.5 511.81 L1304.0 511.23 L1304.5 510.77 L1305.0 510.43 L1305.5 510.25 L1305.8 510.21 L1306.0 510.21 L1306.5 510.21 L1307.0 510.21 L1307.5 510.21 L1308.0 510.21 L1308.5 510.21 L1309.0 510.21 L1309.0 510.21 L1309.5 510.27 L1310.0 510.43 L1310.5 510.7 L1311.0 511.06 L1311.5 511.5 L1312.0 512.01 L1312.5 512.59 L1313.0 513.22 L1313.5 513.9 L1314.0 514.62 L1314.5 515.36 L1315.0 516.12 L1315.5 516.89 L1316.0 517.67 L1316.5 518.43 L1317.0 519.18 L1317.5 519.91 L1318.0 520.59 L1318.5 521.24 L1319.0 521.83 L1319.5 522.35 L1320.0 522.81 L1320.5 523.19 L1321.0 523.48 L1321.5 523.66 L1322.0 523.75 L1322.1 523.75 L1322.5 523.75 L1323.0 523.75 L1323.5 523.75 L1324.0 523.75 L1324.5 523.75 L1325.0 523.75 L1325.3 523.75 L1325.5 523.73 L1326.0 523.54 L1326.5 523.18 L1327.0 522.66 L1327.5 522.01 L1328.0 521.24 L1328.5 520.38 L1329.0 519.44 L1329.5 518.44 L1330.0 517.41 L1330.5 516.35 L1331.0 515.29 L1331.5 514.26 L1332.0 513.26 L1332.5 512.32 L1333.0 511.45 L1333.5 510.68 L1334.0 510.02 L1334.5 509.5 L1335.0 509.13 L1335.5 508.94 L1335.8 508.91 L1336.0 508.91 L1336.5 508.91 L1337.0 508.91 L1337.5 508.91 L1338.0 508.91 L1338.5 508.91 L1339.0 508.91 L1339.0 508.91 L1339.5 508.93 L1340.0 509 L1340.5 509.1 L1341.0 509.24 L1341.5 509.41 L1342.0 509.62 L1342.5 509.86 L1343.0 510.13 L1343.5 510.42 L1344.0 510.75 L1344.5 511.1 L1345.0 511.47 L1345.5 511.86 L1346.0 512.27 L1346.5 512.7 L1347.0 513.14 L1347.5 513.6 L1348.0 514.07 L1348.5 514.56 L1349.0 515.05 L1349.5 515.55 L1350.0 516.05 L1350.5 516.56 L1351.0 517.08 L1351.5 517.59 L1352.0 518.1 L1352.5 518.61 L1353.0 519.11 L1353.5 519.61 L1354.0 520.1 L1354.5 520.58 L1355.0 521.05 L1355.5 521.5 L1356.0 521.94 L1356.5 522.37 L1357.0 522.77 L1357.5 523.16 L1358.0 523.52 L1358.5 523.86 L1359.0 524.18 L1359.5 524.47 L1360.0 524.73 L1360.5 524.95 L1361.0 525.15 L1361.5 525.32 L1362.0 525.44 L1362.5 525.54 L1363.0 525.59 L1363.4 525.6 L1363.5 525.6 L1364.0 525.6 L1364.5 525.6 L1365.0 525.6 L1365.5 525.6 L1366.0 525.6 L1366.5 525.6 L1366.6 525.6 L1367.0 525.45 L1367.5 524.94 L1368.0 524.15 L1368.5 523.12 L1369.0 521.92 L1369.5 520.61 L1370.0 519.25 L1370.5 517.9 L1371.0 516.61 L1371.5 515.45 L1372.0 514.48 L1372.5 513.76 L1373.0 513.34 L1373.3 513.26 L1373.5 513.26 L1374.0 513.26 L1374.5 513.26 L1375.0 513.26 L1375.5 513.26 L1376.0 513.26 L1376.4 513.26 L1376.5 513.27 L1377.0 513.54 L1377.5 514.13 L1378.0 514.97 L1378.5 515.99 L1379.0 517.11 L1379.5 518.26 L1380.0 519.36 L1380.5 520.33 L1381.0 521.11 L1381.5 521.62 L1382.0 521.79 L1382.0 521.79 L1382.5 521.79 L1383.0 521.79 L1383.5 521.79 L1384.0 521.79 L1384.5 521.79 L1385.0 521.79 L1385.0 521.79 L1385.5 521.59 L1386.0 521.05 L1386.5 520.22 L1387.0 519.14 L1387.5 517.86 L1388.0 516.42 L1388.5 514.87 L1389.0 513.25 L1389.5 511.61 L1390.0 510 L1390.5 508.45 L1391.0 507.02 L1391.5 505.75 L1392.0 504.68 L1392.5 503.85 L1393.0 503.33 L1393.5 503.14 L1393.5 503.14 L1394.0 503.14 L1394.5 503.14 L1395.0 503.14 L1395.5 503.14 L1396.0 503.14 L1396.5 503.14 L1396.5 503.14 L1397.0 503.19 L1397.5 503.36 L1398.0 503.62 L1398.5 503.98 L1399.0 504.42 L1399.5 504.95 L1400.0 505.55 L1400.5 506.21 L1401.0 506.93 L1401.5 507.7 L1402.0 508.51 L1402.5 509.36 L1403.0 510.23 L1403.5 511.13 L1404.0 512.05 L1404.5 512.96 L1405.0 513.88 L1405.5 514.79 L1406.0 515.69 L1406.5 516.56 L1407.0 517.41 L1407.5 518.21 L1408.0 518.98 L1408.5 519.69 L1409.0 520.34 L1409.5 520.93 L1410.0 521.44 L1410.5 521.88 L1411.0 522.22 L1411.5 522.47 L1412.0 522.62 L1412.4 522.66 L1412.5 522.66 L1413.0 522.66 L1413.5 522.66 L1414.0 522.66 L1414.5 522.66 L1415.0 522.66 L1415.5 522.66 L1415.5 522.66 L1416.0 522.52 L1416.5 522.14 L1417.0 521.53 L1417.5 520.74 L1418.0 519.79 L1418.5 518.72 L1419.0 517.56 L1419.5 516.34 L1420.0 515.08 L1420.5 513.84 L1421.0 512.62 L1421.5 511.47 L1422.0 510.42 L1422.5 509.49 L1423.0 508.73 L1423.5 508.16 L1424.0 507.81 L1424.4 507.71 L1424.5 507.71 L1425.0 507.71 L1425.5 507.71 L1426.0 507.71 L1426.5 507.71 L1427.0 507.71 L1427.5 507.71 L1427.5 507.71 L1428.0 508.25 L1428.5 509.47 L1429.0 511.1 L1429.5 512.84 L1430.0 514.42 L1430.5 515.54 L1431.0 515.92 L1431.0 515.92 L1431.5 515.92 L1432.0 515.92 L1432.5 515.92 L1433.0 515.92 L1433.5 515.92 L1433.9 515.92 L1434.0 515.91 L1434.5 515.5 L1435.0 514.57 L1435.5 513.24 L1436.0 511.62 L1436.5 509.81 L1437.0 507.93 L1437.5 506.1 L1438.0 504.41 L1438.5 502.99 L1439.0 501.94 L1439.5 501.37 L1439.7 501.3 L1440.0 501.3 L1440.5 501.3 L1441.0 501.3 L1441.5 501.3 L1442.0 501.3 L1442.5 501.3 L1442.6 501.3 L1443.0 501.37 L1443.5 501.68 L1444.0 502.19 L1444.5 502.9 L1445.0 503.79 L1445.5 504.82 L1446.0 505.99 L1446.5 507.28 L1447.0 508.65 L1447.5 510.1 L1448.0 511.6 L1448.5 513.13 L1449.0 514.67 L1449.5 516.2 L1450.0 517.7 L1450.5 519.16 L1451.0 520.54 L1451.5 521.84 L1452.0 523.02 L1452.5 524.08 L1453.0 524.98 L1453.5 525.71 L1454.0 526.25 L1454.5 526.58 L1455.0 526.68 L1455.0 526.68 L1455.5 526.68 L1456.0 526.68 L1456.5 526.68 L1457.0 526.68 L1457.5 526.68 L1457.8 526.68 L1458.0 526.64 L1458.5 526.3 L1459.0 525.64 L1459.5 524.69 L1460.0 523.5 L1460.5 522.09 L1461.0 520.5 L1461.5 518.78 L1462.0 516.95 L1462.5 515.06 L1463.0 513.14 L1463.5 511.22 L1464.0 509.34 L1464.5 507.55 L1465.0 505.86 L1465.5 504.33 L1466.0 502.99 L1466.5 501.87 L1467.0 501.01 L1467.5 500.44 L1468.0 500.21 L1468.1 500.21 L1468.5 500.21 L1469.0 500.21 L1469.5 500.21 L1470.0 500.21 L1470.5 500.21 L1471.0 500.21 L1471.0 500.21 L1471.5 500.28 L1472.0 500.46 L1472.5 500.76 L1473.0 501.16 L1473.5 501.66 L1474.0 502.25 L1474.5 502.91 L1475.0 503.65 L1475.5 504.45 L1476.0 505.3 L1476.5 506.19 L1477.0 507.13 L1477.5 508.09 L1478.0 509.07 L1478.5 510.07 L1479.0 511.06 L1479.5 512.06 L1480.0 513.03 L1480.5 513.99 L1481.0 514.92 L1481.5 515.8 L1482.0 516.64 L1482.5 517.43 L1483.0 518.15 L1483.5 518.8 L1484.0 519.37 L1484.5 519.84 L1485.0 520.23 L1485.5 520.5 L1486.0 520.66 L1486.4 520.7 L1486.5 520.7 L1487.0 520.7 L1487.5 520.7 L1488.0 520.7 L1488.5 520.7 L1489.0 520.7 L1489.5 520.7 L1489.6 520.7 L1490.0 520.67 L1490.5 520.56 L1491.0 520.37 L1491.5 520.12 L1492.0 519.8 L1492.5 519.43 L1493.0 519.01 L1493.5 518.54 L1494.0 518.04 L1494.5 517.51 L1495.0 516.95 L1495.5 516.37 L1496.0 515.79 L1496.5 515.2 L1497.0 514.61 L1497.5 514.03 L1498.0 513.46 L1498.5 512.91 L1499.0 512.4 L1499.5 511.91 L1500.0 511.47 L1500.5 511.07 L1501.0 510.72 L1501.5 510.44 L1502.0 510.22 L1502.5 510.07 L1503.0 510 L1503.2 510 L1503.5 510 L1504.0 510 L1504.5 510 L1505.0 510 L1505.5 510 L1506.0 510 L1506.3 510 L1506.5 510.01 L1507.0 510.2 L1507.5 510.59 L1508.0 511.17 L1508.5 511.91 L1509.0 512.77 L1509.5 513.73 L1510.0 514.76 L1510.5 515.83 L1511.0 516.92 L1511.5 518 L1512.0 519.03 L1512.5 520 L1513.0 520.88 L1513.5 521.63 L1514.0 522.22 L1514.5 522.64 L1515.0 522.86 L1515.2 522.88 L1515.5 522.88 L1516.0 522.88 L1516.5 522.88 L1517.0 522.88 L1517.5 522.88 L1517.9 522.88 L1518.0 522.87 L1518.5 522.5 L1519.0 521.63 L1519.5 520.29 L1520.0 518.53 L1520.5 516.42 L1521.0 513.98 L1521.5 511.27 L1522.0 508.34 L1522.5 505.23 L1523.0 502 L1523.5 498.69 L1524.0 495.34 L1524.5 492.01 L1525.0 488.75 L1525.5 485.6 L1526.0 482.61 L1526.5 479.82 L1527.0 477.29 L1527.5 475.07 L1528.0 473.19 L1528.5 471.71 L1529.0 470.68 L1529.5 470.15 L1529.7 470.08 L1530.0 470.08 L1530.5 470.08 L1531.0 470.08 L1531.5 470.08 L1532.0 470.08 L1532.0 470.08 L1532.5 470.37 L1533.0 471.12 L1533.5 472.29 L1534.0 473.85 L1534.5 475.76 L1535.0 477.99 L1535.5 480.5 L1536.0 483.25 L1536.5 486.22 L1537.0 489.35 L1537.5 492.62 L1538.0 495.99 L1538.5 499.42 L1539.0 502.89 L1539.5 506.34 L1540.0 509.75 L1540.5 513.09 L1541.0 516.3 L1541.5 519.37 L1542.0 522.25 L1542.5 524.9 L1543.0 527.3 L1543.2 528.13 L1543.5 529.52 L1544.0 531.95 L1544.5 534.48 L1545.0 536.97 L1545.5 539.27 L1546.0 541.21 L1546.5 542.65 L1547.0 543.44 L1547.2 543.54 L1547.5 543.54 L1548.0 543.54 L1548.5 543.54 L1549.0 543.54 L1549.5 543.54 L1549.6 543.54 L1550.0 543.4 L1550.5 542.78 L1551.0 541.75 L1551.5 540.38 L1552.0 538.75 L1552.5 536.95 L1553.0 535.07 L1553.5 533.17 L1554.0 531.35 L1554.5 529.68 L1555.0 528.26 L1555.0 528.13 L1555.5 526.98 L1556.0 525.65 L1556.5 524.28 L1557.0 522.87 L1557.5 521.44 L1558.0 520 L1558.5 518.55 L1559.0 517.11 L1559.5 515.69 L1560.0 514.29 L1560.5 512.94 L1561.0 511.63 L1561.5 510.38 L1562.0 509.2 L1562.5 508.11 L1563.0 507.1 L1563.5 506.19 L1564.0 505.4 L1564.5 504.73 L1565.0 504.19 L1565.5 503.79 L1566.0 503.55 L1566.5 503.47 L1566.5 503.47 L1567.0 503.47 L1567.5 503.47 L1568.0 503.47 L1568.5 503.47 L1569.0 503.47 L1569.4 503.47 L1569.5 503.47 L1570.0 503.56 L1570.5 503.75 L1571.0 504.06 L1571.5 504.47 L1572.0 504.97 L1572.5 505.55 L1573.0 506.22 L1573.5 506.95 L1574.0 507.76 L1574.5 508.62 L1575.0 509.53 L1575.5 510.49 L1576.0 511.49 L1576.5 512.52 L1577.0 513.57 L1577.5 514.63 L1578.0 515.71 L1578.5 516.79 L1579.0 517.87 L1579.5 518.93 L1580.0 519.98 L1580.5 521 L1581.0 521.99 L1581.5 522.95 L1582.0 523.85 L1582.5 524.7 L1583.0 525.5 L1583.5 526.22 L1584.0 526.88 L1584.5 527.45 L1585.0 527.94 L1585.5 528.33 L1586.0 528.61 L1586.5 528.79 L1587.0 528.86 L1587.0 528.86 L1587.5 528.86 L1588.0 528.86 L1588.5 528.86 L1589.0 528.86 L1589.5 528.86 L1590.0 528.86 L1590.0 528.86 L1590.5 528.8 L1591.0 528.61 L1591.5 528.29 L1592.0 527.85 L1592.5 527.31 L1593.0 526.67 L1593.5 525.93 L1594.0 525.11 L1594.5 524.22 L1595.0 523.25 L1595.5 522.23 L1596.0 521.16 L1596.5 520.05 L1597.0 518.9 L1597.5 517.72 L1598.0 516.53 L1598.5 515.32 L1599.0 514.12 L1599.5 512.92 L1600.0 511.73 L1600.5 510.57 L1601.0 509.44 L1601.5 508.35 L1602.0 507.31 L1602.5 506.32 L1603.0 505.4 L1603.5 504.55 L1604.0 503.78 L1604.5 503.1 L1605.0 502.51 L1605.5 502.03 L1606.0 501.67 L1606.5 501.42 L1607.0 501.31 L1607.2 501.3 L1607.5 501.3 L1608.0 501.3 L1608.5 501.3 L1609.0 501.3 L1609.5 501.3 L1610.0 501.3 L1610.0 501.3 L1610.5 501.5 L1611.0 502.08 L1611.5 503.01 L1612.0 504.24 L1612.5 505.72 L1613.0 507.42 L1613.5 509.28 L1614.0 511.27 L1614.5 513.33 L1615.0 515.44 L1615.5 517.53 L1616.0 519.58 L1616.5 521.53 L1617.0 523.34 L1617.5 524.97 L1618.0 526.37 L1618.5 527.5 L1619.0 528.32 L1619.5 528.78 L1619.8 528.86 L1620.0 528.86 L1620.5 528.86 L1621.0 528.86 L1621.5 528.86 L1622.0 528.86 L1622.5 528.86 L1622.7 528.86 L1623.0 528.84 L1623.5 528.74 L1624.0 528.54 L1624.5 528.25 L1625.0 527.88 L1625.5 527.43 L1626.0 526.91 L1626.5 526.32 L1627.0 525.68 L1627.5 524.98 L1628.0 524.22 L1628.5 523.43 L1629.0 522.59 L1629.5 521.72 L1630.0 520.82 L1630.5 519.9 L1631.0 518.97 L1631.5 518.02 L1632.0 517.07 L1632.5 516.11 L1633.0 515.16 L1633.5 514.22 L1634.0 513.3 L1634.5 512.4 L1635.0 511.52 L1635.5 510.68 L1636.0 509.88 L1636.5 509.12 L1637.0 508.4 L1637.5 507.75 L1638.0 507.15 L1638.5 506.62 L1639.0 506.16 L1639.5 505.77 L1640.0 505.47 L1640.5 505.25 L1641.0 505.13 L1641.4 505.1 L1641.5 505.1 L1642.0 505.1 L1642.5 505.1 L1643.0 505.1 L1643.5 505.1 L1644.0 505.1 L1644.4 505.1 L1644.5 505.12 L1645.0 505.4 L1645.5 506 L1646.0 506.88 L1646.5 507.99 L1647.0 509.3 L1647.5 510.77 L1648.0 512.35 L1648.5 514 L1649.0 515.69 L1649.5 517.37 L1650.0 519 L1650.5 520.54 L1651.0 521.94 L1651.5 523.18 L1652.0 524.21 L1652.5 524.98 L1653.0 525.46 L1653.4 525.6 L1653.5 525.6 L1654.0 525.6 L1654.5 525.6 L1655.0 525.6 L1655.5 525.6 L1656.0 525.6 L1656.3 525.6 L1656.5 525.58 L1657.0 525.32 L1657.5 524.78 L1658.0 523.98 L1658.5 522.97 L1659.0 521.79 L1659.5 520.46 L1660.0 519.04 L1660.5 517.55 L1661.0 516.03 L1661.5 514.52 L1662.0 513.06 L1662.5 511.69 L1663.0 510.43 L1663.5 509.34 L1664.0 508.44 L1664.5 507.77 L1665.0 507.38 L1665.4 507.28 L1665.5 507.28 L1666.0 507.28 L1666.5 507.28 L1667.0 507.28 L1667.5 507.28 L1668.0 507.28 L1668.3 507.28 L1668.5 507.3 L1669.0 507.64 L1669.5 508.31 L1670.0 509.27 L1670.5 510.46 L1671.0 511.82 L1671.5 513.28 L1672.0 514.79 L1672.5 516.3 L1673.0 517.73 L1673.5 519.03 L1674.0 520.15 L1674.5 521.02 L1675.0 521.59 L1675.5 521.79 L1675.5 521.79 L1676.0 521.79 L1676.5 521.79 L1677.0 521.79 L1677.5 521.79 L1678.0 521.79 L1678.5 521.79 L1678.5 521.79 L1679.0 521.53 L1679.5 520.87 L1680.0 519.9 L1680.5 518.66 L1681.0 517.25 L1681.5 515.71 L1682.0 514.12 L1682.5 512.55 L1683.0 511.07 L1683.5 509.74 L1684.0 508.63 L1684.5 507.81 L1685.0 507.35 L1685.3 507.28 L1685.5 507.28 L1686.0 507.28 L1686.5 507.28 L1687.0 507.28 L1687.5 507.28 L1688.0 507.28 L1688.3 507.28 L1688.5 507.3 L1689.0 507.48 L1689.5 507.83 L1690.0 508.34 L1690.5 508.98 L1691.0 509.75 L1691.5 510.63 L1692.0 511.6 L1692.5 512.65 L1693.0 513.76 L1693.5 514.91 L1694.0 516.09 L1694.5 517.28 L1695.0 518.46 L1695.5 519.63 L1696.0 520.76 L1696.5 521.84 L1697.0 522.85 L1697.5 523.78 L1698.0 524.61 L1698.5 525.32 L1699.0 525.89 L1699.5 526.33 L1700.0 526.59 L1700.5 526.68 L1700.5 526.68 L1701.0 526.68 L1701.5 526.68 L1702.0 526.68 L1702.5 526.68 L1703.0 526.68 L1703.5 526.68 L1703.5 526.68 L1704.0 526.57 L1704.5 526.29 L1705.0 525.84 L1705.5 525.24 L1706.0 524.51 L1706.5 523.66 L1707.0 522.69 L1707.5 521.63 L1708.0 520.49 L1708.5 519.27 L1709.0 518 L1709.5 516.68 L1710.0 515.33 L1710.5 513.97 L1711.0 512.59 L1711.5 511.23 L1712.0 509.89 L1712.5 508.58 L1713.0 507.32 L1713.5 506.12 L1714.0 505 L1714.5 503.96 L1715.0 503.02 L1715.5 502.19 L1716.0 501.49 L1716.5 500.93 L1717.0 500.52 L1717.5 500.28 L1717.9 500.21 L1718.0 500.21 L1718.5 500.21 L1719.0 500.21 L1719.5 500.21 L1720.0 500.21 L1720.5 500.21 L1720.8 500.21 L1721.0 500.26 L1721.5 500.68 L1722.0 501.48 L1722.5 502.62 L1723.0 504.04 L1723.5 505.68 L1724.0 507.49 L1724.5 509.42 L1725.0 511.41 L1725.5 513.42 L1726.0 515.38 L1726.5 517.25 L1727.0 518.96 L1727.5 520.47 L1728.0 521.73 L1728.5 522.67 L1729.0 523.25 L1729.4 523.42 L1729.5 523.42 L1730.0 523.42 L1730.5 523.42 L1731.0 523.42 L1731.5 523.42 L1732.0 523.42 L1732.4 523.42 L1732.5 523.42 L1733.0 523.34 L1733.5 523.16 L1734.0 522.89 L1734.5 522.53 L1735.0 522.09 L1735.5 521.58 L1736.0 521 L1736.5 520.37 L1737.0 519.68 L1737.5 518.95 L1738.0 518.19 L1738.5 517.39 L1739.0 516.57 L1739.5 515.74 L1740.0 514.9 L1740.5 514.06 L1741.0 513.22 L1741.5 512.4 L1742.0 511.6 L1742.5 510.82 L1743.0 510.08 L1743.5 509.39 L1744.0 508.74 L1744.5 508.15 L1745.0 507.63 L1745.5 507.17 L1746.0 506.79 L1746.5 506.5 L1747.0 506.3 L1747.5 506.2 L1747.7 506.19 L1748.0 506.19 L1748.5 506.19 L1749.0 506.19 L1749.5 506.19 L1750.0 506.19 L1750.5 506.19 L1750.8 506.19 L1751.0 506.19 L1751.5 506.22 L1752.0 506.27 L1752.5 506.36 L1753.0 506.48 L1753.5 506.62 L1754.0 506.8 L1754.5 507 L1755.0 507.24 L1755.5 507.5 L1756.0 507.8 L1756.5 508.12 L1757.0 508.47 L1757.5 508.84 L1758.0 509.25 L1758.5 509.68 L1759.0 510.14 L1759.5 510.63 L1760.0 511.14 L1760.5 511.69 L1761.0 512.25 L1761.5 512.85 L1762.0 513.47 L1762.5 514.11 L1763.0 514.78 L1763.5 515.48 L1764.0 516.2 L1764.5 516.94 L1765.0 517.71 L1765.5 518.5 L1766.0 519.32 L1766.5 520.16 L1767.0 521.03 L1767.5 521.92 L1768.0 522.83 L1768.5 523.76 L1769.0 524.72 L1769.5 525.69 L1770.0 526.7 L1770.5 527.72 L1771.0 528.76 L1771.5 529.83 L1772.0 530.91 L1772.5 531.93"/>
<g transform="scale(1 1.15)"><path stroke="#00f" d="M262.0 572.17 L262.5 570.7 L263.0 569.17 L263.5 567.59 L264.0 565.97 L264.5 564.3 L265.0 562.6 L265.5 560.87 L266.0 558.55 L266.5 556.11 L267.0 553.6 L267.5 551.06 L268.0 548.54 L268.5 546.09 L269.0 543.74 L269.5 541.95 L270.0 540.24 L270.5 538.58 L271.0 536.95 L271.5 535.35 L272.0 533.75 L272.5 532.13 L273.0 530.48 L273.5 528.78 L274.0 527.01 L274.5 525.16 L274.6 524.78 L275.0 522.4 L275.5 519.31 L276.0 516.12 L276.5 512.83 L277.0 509.46 L277.5 506.03 L278.0 502.55 L278.5 499.03 L279.0 495.48 L279.5 491.93 L280.0 488.37 L280.2 486.96 L280.5 484.48 L281.0 480.16 L281.5 475.8 L282.0 471.67 L282.4 468.7 L282.5 468.31 L283.0 466.38 L283.5 464.48 L284.0 462.64 L284.5 460.88 L285.0 459.22 L285.5 457.67 L286.0 456.27 L286.5 455.04 L287.0 454.09 L287.0 454.09 L287.5 454.09 L288.0 454.09 L288.5 454.09 L289.0 454.09 L289.5 454.09 L289.6 454.09 L290.0 454.16 L290.5 454.28 L291.0 454.41 L291.5 454.55 L292.0 454.71 L292.5 454.88 L293.0 455.05 L293.5 455.22 L294.0 455.4 L294.5 455.57 L295.0 455.73 L295.5 455.89 L296.0 456.04 L296.5 456.17 L297.0 456.28 L297.4 456.36 L297.5 456.36 L298.0 456.36 L298.5 456.36 L299.0 456.36 L299.5 456.36 L300.0 456.36 L300.4 456.36 L300.5 456.27 L301.0 455.91 L301.5 455.49 L302.0 455.01 L302.5 454.48 L303.0 453.93 L303.5 453.34 L304.0 452.75 L304.5 452.15 L305.0 451.56 L305.5 450.99 L306.0 450.45 L306.5 449.95 L307.0 449.5 L307.5 449.11 L307.8 448.89 L308.0 448.89 L308.5 448.89 L309.0 448.89 L309.5 448.89 L310.0 448.89 L310.5 448.89 L310.6 448.89 L311.0 449.23 L311.5 449.8 L312.0 450.48 L312.5 451.24 L313.0 452.05 L313.5 452.89 L314.0 453.74 L314.5 454.57 L315.0 455.35 L315.5 456.07 L316.0 456.7 L316.5 457.22 L316.6 457.3 L317.0 457.3 L317.5 457.3 L318.0 457.3 L318.5 457.3 L319.0 457.3 L319.2 457.3 L319.5 456.93 L320.0 456.12 L320.5 455.16 L321.0 454.09 L321.5 452.93 L322.0 451.7 L322.5 450.44 L323.0 449.16 L323.5 447.9 L324.0 446.69 L324.5 445.54 L325.0 444.49 L325.5 443.56 L326.0 442.77 L326.2 442.55 L326.5 442.55 L327.0 442.55 L327.5 442.55 L328.0 442.55 L328.5 442.55 L328.8 442.55 L329.0 442.74 L329.5 443.26 L330.0 443.88 L330.5 444.57 L331.0 445.33 L331.5 446.13 L332.0 446.96 L332.5 447.81 L333.0 448.66 L333.5 449.49 L334.0 450.29 L334.5 451.05 L335.0 451.74 L335.5 452.35 L336.0 452.87 L336.2 453.04 L336.5 453.04 L337.0 453.04 L337.5 453.04 L338.0 453.04 L338.5 453.04 L339.0 453.04 L339.0 453.04 L339.5 452.8 L340.0 452.47 L340.5 452.08 L341.0 451.65 L341.5 451.22 L342.0 450.78 L342.5 450.38 L343.0 450.02 L343.5 449.73 L343.7 449.64 L344.0 449.64 L344.5 449.64 L345.0 449.64 L345.5 449.64 L346.0 449.64 L346.5 449.64 L346.7 449.64 L347.0 449.75 L347.5 449.95 L348.0 450.19 L348.5 450.45 L349.0 450.74 L349.5 451.02 L350.0 451.31 L350.5 451.57 L351.0 451.81 L351.5 452.01 L351.8 452.1 L352.0 452.1 L352.5 452.1 L353.0 452.1 L353.5 452.1 L354.0 452.1 L354.5 452.1 L354.9 452.1 L355.0 452.08 L355.5 451.99 L356.0 451.89 L356.5 451.78 L357.0 451.66 L357.5 451.53 L358.0 451.4 L358.5 451.26 L359.0 451.11 L359.5 450.97 L360.0 450.81 L360.5 450.66 L361.0 450.5 L361.5 450.34 L362.0 450.18 L362.5 450.02 L363.0 449.87 L363.1 449.83 L363.5 449.64 L364.0 449.38 L364.5 449.1 L365.0 448.81 L365.5 448.5 L366.0 448.2 L366.5 447.88 L367.0 447.57 L367.5 447.26 L368.0 446.96 L368.5 446.66 L369.0 446.38 L369.5 446.12 L370.0 445.87 L370.5 445.64 L371.0 445.44 L371.4 445.3 L371.5 445.3 L372.0 445.3 L372.5 445.3 L373.0 445.3 L373.5 445.3 L374.0 445.3 L374.2 445.3 L374.5 445.6 L375.0 446.22 L375.5 446.94 L376.0 447.75 L376.5 448.63 L377.0 449.56 L377.5 450.53 L378.0 451.51 L378.5 452.48 L379.0 453.43 L379.5 454.34 L380.0 455.2 L380.5 455.98 L381.0 456.66 L381.5 457.23 L381.6 457.3 L382.0 457.3 L382.5 457.3 L383.0 457.3 L383.5 457.3 L384.0 457.3 L384.1 457.3 L384.5 456.58 L385.0 455.57 L385.5 454.42 L386.0 453.14 L386.5 451.77 L387.0 450.32 L387.5 448.8 L388.0 447.25 L388.5 445.67 L389.0 444.1 L389.5 442.54 L390.0 441.03 L390.5 439.58 L391.0 438.2 L391.5 436.93 L392.0 435.78 L392.5 434.77 L392.9 434.04 L393.0 434.04 L393.5 434.04 L394.0 434.04 L394.5 434.04 L395.0 434.04 L395.3 434.04 L395.5 434.48 L396.0 435.51 L396.5 436.7 L397.0 438.04 L397.5 439.49 L398.0 441.04 L398.5 442.65 L399.0 444.32 L399.5 446.01 L400.0 447.7 L400.5 449.37 L401.0 451 L401.5 452.56 L402.0 454.02 L402.5 455.38 L403.0 456.6 L403.5 457.65 L403.8 458.24 L404.0 458.24 L404.5 458.24 L405.0 458.24 L405.5 458.24 L406.0 458.24 L406.3 458.24 L406.5 457.99 L407.0 457.42 L407.5 456.79 L408.0 456.1 L408.5 455.36 L409.0 454.58 L409.5 453.75 L410.0 452.88 L410.5 451.98 L411.0 451.05 L411.5 450.1 L412.0 449.12 L412.5 448.13 L413.0 447.12 L413.5 446.11 L414.0 445.09 L414.5 444.08 L415.0 443.06 L415.5 442.06 L416.0 441.07 L416.5 440.1 L417.0 439.15 L417.5 438.23 L418.0 437.33 L418.5 436.47 L419.0 435.65 L419.5 434.88 L420.0 434.15 L420.5 433.47 L421.0 432.85 L421.5 432.29 L421.6 432.15 L422.0 432.15 L422.5 432.15 L423.0 432.15 L423.5 432.15 L424.0 432.15 L424.2 432.15 L424.5 432.62 L425.0 433.43 L425.5 434.36 L426.0 435.4 L426.5 436.53 L427.0 437.73 L427.5 438.97 L428.0 440.25 L428.5 441.54 L429.0 442.82 L429.5 444.09 L430.0 445.31 L430.5 446.47 L431.0 447.55 L431.5 448.53 L432.0 449.4 L432.5 450.14 L432.6 450.21 L433.0 450.21 L433.5 450.21 L434.0 450.21 L434.5 450.21 L434.8 450.21 L435.0 449.82 L435.5 448.67 L436.0 447.36 L436.5 446.28 L436.6 446.05 L437.0 446.05 L437.5 446.05 L438.0 446.05 L438.5 446.05 L439.0 446.05 L439.1 446.05 L439.5 446.43 L440.0 446.98 L440.5 447.62 L441.0 448.3 L441.5 448.97 L442.0 449.57 L442.5 450.06 L442.7 450.21 L443.0 450.21 L443.5 450.21 L444.0 450.21 L444.5 450.21 L445.0 450.21 L445.4 450.21 L445.5 449.93 L446.0 448.75 L446.5 447.27 L447.0 445.6 L447.5 443.85 L448.0 442.12 L448.5 440.52 L449.0 439.14 L449.4 438.2 L449.5 438.2 L450.0 438.2 L450.5 438.2 L451.0 438.2 L451.5 438.2 L451.9 438.2 L452.0 438.38 L452.5 439.29 L453.0 440.38 L453.5 441.63 L454.0 443 L454.5 444.44 L455.0 445.92 L455.5 447.4 L456.0 448.85 L456.5 450.22 L457.0 451.47 L457.5 452.58 L458.0 453.49 L458.1 453.7 L458.5 453.7 L459.0 453.7 L459.5 453.7 L460.0 453.7 L460.5 453.7 L460.7 453.7 L461.0 453.35 L461.5 452.74 L462.0 452.03 L462.5 451.24 L463.0 450.38 L463.5 449.48 L464.0 448.53 L464.5 447.55 L465.0 446.57 L465.5 445.57 L466.0 444.59 L466.5 443.64 L467.0 442.72 L467.5 441.85 L468.0 441.04 L468.5 440.31 L469.0 439.66 L469.5 439.15 L469.5 439.15 L470.0 439.15 L470.5 439.15 L471.0 439.15 L471.5 439.15 L472.0 439.15 L472.1 439.15 L472.5 439.5 L473.0 440.06 L473.5 440.72 L474.0 441.44 L474.5 442.22 L475.0 443.05 L475.5 443.91 L476.0 444.77 L476.5 445.64 L477.0 446.49 L477.5 447.31 L478.0 448.08 L478.5 448.79 L479.0 449.43 L479.5 449.97 L479.8 450.21 L480.0 450.21 L480.5 450.21 L481.0 450.21 L481.5 450.21 L482.0 450.21 L482.5 450.21 L482.5 450.18 L483.0 449.62 L483.5 448.9 L484.0 448.07 L484.5 447.16 L485.0 446.23 L485.5 445.3 L486.0 444.42 L486.5 443.62 L487.0 442.94 L487.4 442.55 L487.5 442.55 L488.0 442.55 L488.5 442.55 L489.0 442.55 L489.5 442.55 L490.0 442.55 L490.0 442.55 L490.5 443.11 L491.0 443.86 L491.5 444.72 L492.0 445.67 L492.5 446.69 L493.0 447.75 L493.5 448.83 L494.0 449.9 L494.5 450.94 L495.0 451.92 L495.5 452.82 L496.0 453.61 L496.5 454.28 L496.7 454.46 L497.0 454.46 L497.5 454.46 L498.0 454.46 L498.5 454.46 L499.0 454.46 L499.4 454.46 L499.5 454.34 L500.0 453.86 L500.5 453.28 L501.0 452.63 L501.5 451.91 L502.0 451.16 L502.5 450.38 L503.0 449.6 L503.5 448.83 L504.0 448.1 L504.5 447.42 L505.0 446.81 L505.5 446.29 L505.8 446 L506.0 446 L506.5 446 L507.0 446 L507.5 446 L508.0 446 L508.5 446 L508.8 446 L509.0 446.01 L509.5 446.06 L510.0 446.11 L510.5 446.17 L511.0 446.24 L511.5 446.3 L512.0 446.36 L512.5 446.42 L513.0 446.46 L513.2 446.48 L513.5 446.48 L514.0 446.48 L514.5 446.48 L515.0 446.48 L515.5 446.48 L516.0 446.48 L516.3 446.48 L516.5 446.42 L517.0 446.18 L517.5 445.89 L518.0 445.55 L518.5 445.2 L519.0 444.84 L519.5 444.5 L520.0 444.18 L520.5 443.91 L520.9 443.73 L521.0 443.73 L521.5 443.73 L522.0 443.73 L522.5 443.73 L523.0 443.73 L523.5 443.73 L524.0 443.73 L524.0 443.73 L524.5 443.74 L525.0 443.75 L525.5 443.76 L526.0 443.77 L526.5 443.78 L527.0 443.79 L527.5 443.8 L528.0 443.82 L528.5 443.83 L529.0 443.85 L529.5 443.86 L530.0 443.88 L530.5 443.9 L531.0 443.92 L531.1 443.92 L531.5 444.3 L532.0 444.94 L532.5 445.68 L533.0 446.5 L533.5 447.38 L534.0 448.29 L534.5 449.22 L535.0 450.14 L535.5 451.02 L536.0 451.85 L536.5 452.6 L537.0 453.24 L537.4 453.7 L537.5 453.7 L538.0 453.7 L538.5 453.7 L539.0 453.7 L539.5 453.7 L540.0 453.7 L540.1 453.7 L540.5 453.35 L541.0 452.76 L541.5 452.08 L542.0 451.33 L542.5 450.52 L543.0 449.68 L543.5 448.83 L544.0 448.01 L544.5 447.23 L545.0 446.51 L545.5 445.88 L546.0 445.37 L546.1 445.3 L546.5 445.3 L547.0 445.3 L547.5 445.3 L548.0 445.3 L548.5 445.3 L548.9 445.3 L549.0 445.37 L549.5 445.75 L550.0 446.2 L550.5 446.72 L551.0 447.29 L551.5 447.89 L552.0 448.5 L552.5 449.12 L553.0 449.73 L553.5 450.31 L554.0 450.85 L554.5 451.32 L555.0 451.73 L555.3 451.91 L555.5 451.91 L556.0 451.91 L556.5 451.91 L557.0 451.91 L557.5 451.91 L557.9 451.91 L558.0 451.82 L558.5 450.95 L559.0 449.88 L559.5 448.64 L560.0 447.29 L560.5 445.87 L561.0 444.42 L561.5 442.99 L562.0 441.63 L562.5 440.38 L563.0 439.28 L563.5 438.38 L563.6 438.2 L564.0 438.2 L564.5 438.2 L565.0 438.2 L565.5 438.2 L566.0 438.2 L566.1 438.2 L566.5 438.72 L567.0 439.53 L567.5 440.46 L568.0 441.5 L568.5 442.62 L569.0 443.8 L569.5 445.02 L570.0 446.27 L570.5 447.51 L571.0 448.74 L571.5 449.93 L572.0 451.05 L572.5 452.1 L573.0 453.04 L573.5 453.86 L573.9 454.46 L574.0 454.46 L574.5 454.46 L575.0 454.46 L575.5 454.46 L576.0 454.46 L576.5 454.46 L576.6 454.46 L577.0 454.31 L577.5 454.06 L578.0 453.77 L578.5 453.47 L579.0 453.13 L579.5 452.78 L580.0 452.41 L580.5 452.02 L581.0 451.62 L581.5 451.21 L582.0 450.8 L582.5 450.38 L583.0 449.96 L583.5 449.54 L584.0 449.13 L584.5 448.73 L585.0 448.34 L585.5 447.97 L586.0 447.61 L586.5 447.28 L587.0 446.97 L587.5 446.68 L588.0 446.43 L588.4 446.24 L588.5 446.24 L589.0 446.24 L589.5 446.24 L590.0 446.24 L590.5 446.24 L591.0 446.24 L591.4 446.24 L591.5 446.25 L592.0 446.29 L592.5 446.33 L593.0 446.38 L593.5 446.44 L594.0 446.5 L594.5 446.56 L595.0 446.63 L595.5 446.7 L596.0 446.77 L596.5 446.84 L597.0 446.92 L597.5 447 L597.5 447.01 L598.0 447.33 L598.5 447.7 L599.0 448.12 L599.5 448.56 L600.0 449.02 L600.5 449.47 L601.0 449.91 L601.5 450.3 L602.0 450.65 L602.5 450.94 L602.6 450.97 L603.0 450.97 L603.5 450.97 L604.0 450.97 L604.5 450.97 L605.0 450.97 L605.4 450.97 L605.5 450.83 L606.0 450.27 L606.5 449.58 L607.0 448.79 L607.5 447.94 L608.0 447.04 L608.5 446.12 L609.0 445.21 L609.5 444.33 L610.0 443.52 L610.5 442.78 L611.0 442.16 L611.4 441.79 L611.5 441.79 L612.0 441.79 L612.5 441.79 L613.0 441.79 L613.5 441.79 L613.9 441.79 L614.0 441.91 L614.5 442.93 L615.0 444.23 L615.5 445.72 L616.0 447.32 L616.5 448.96 L617.0 450.56 L617.5 452.05 L618.0 453.34 L618.5 454.36 L618.6 454.46 L619.0 454.46 L619.5 454.46 L620.0 454.46 L620.5 454.46 L621.0 454.46 L621.1 454.46 L621.5 453.87 L622.0 452.94 L622.5 451.85 L623.0 450.66 L623.5 449.44 L624.0 448.23 L624.5 447.11 L625.0 446.13 L625.5 445.36 L625.6 445.3 L626.0 445.3 L626.5 445.3 L627.0 445.3 L627.5 445.3 L628.0 445.3 L628.3 445.3 L628.5 445.5 L629.0 446.04 L629.5 446.69 L630.0 447.42 L630.5 448.2 L631.0 448.99 L631.5 449.75 L632.0 450.46 L632.5 451.08 L633.0 451.57 L633.1 451.63 L633.5 451.63 L634.0 451.63 L634.5 451.63 L635.0 451.63 L635.5 451.63 L635.8 451.63 L636.0 451.42 L636.5 450.8 L637.0 450.07 L637.5 449.24 L638.0 448.34 L638.5 447.39 L639.0 446.42 L639.5 445.44 L640.0 444.47 L640.5 443.55 L641.0 442.7 L641.5 441.93 L642.0 441.26 L642.4 440.85 L642.5 440.85 L643.0 440.85 L643.5 440.85 L644.0 440.85 L644.5 440.85 L645.0 440.85 L645.1 440.85 L645.5 441.11 L646.0 441.44 L646.5 441.79 L647.0 442.16 L647.5 442.54 L648.0 442.94 L648.5 443.35 L649.0 443.78 L649.5 444.23 L650.0 444.69 L650.5 445.17 L651.0 445.66 L651.5 446.16 L652.0 446.69 L652.5 447.22 L653.0 447.77 L653.5 448.33 L654.0 448.91 L654.5 449.5 L655.0 450.1 L655.5 450.71 L656.0 451.34 L656.5 451.98 L657.0 452.63 L657.5 453.29 L658.0 453.97 L658.4 454.51 L658.5 454.86 L659.0 456.72 L659.5 458.77 L660.0 460.96 L660.5 463.28 L661.0 465.67 L661.5 468.1 L661.8 469.57 L662.0 470.97 L662.5 474.8 L663.0 478.96 L663.5 483.28 L664.0 487.59 L664.5 491.71 L665.0 495.49 L665.5 498.74 L665.9 500.96 L666.0 500.96 L666.5 500.96 L667.0 500.96 L667.1 500.96 L667.5 498.08 L668.0 494.25 L668.5 489.82 L669.0 484.83 L669.5 479.32 L670.0 473.35 L670.3 469.57 L670.5 462.55 L671.0 441.45 L671.2 433.04 L671.5 421.17 L672.0 401.3 L672.5 381.59 L673.0 362.31 L673.2 354.78 L673.5 344.88 L674.0 328.22 L674.5 312.29 L675.0 298.16 L675.1 295.65 L675.5 291.16 L676.0 285.78 L676.5 280.86 L677.0 276.55 L677.5 273.05 L677.6 272.26 L678.0 272.26 L678.2 272.26 L678.5 274.99 L679.0 280.91 L679.5 288.01 L680.0 295.65 L680.5 311.74 L681.0 329.99 L681.5 348.1 L681.7 354.78 L682.0 362.05 L682.5 373.14 L683.0 384.84 L683.3 393.04 L683.5 406.07 L683.9 433.04 L684.0 434.91 L684.5 442.52 L685.0 449.57 L685.5 458.78 L686.0 467.89 L686.1 469.57 L686.5 474.25 L687.0 480.09 L687.5 485.57 L688.0 490.34 L688.5 493.91 L688.5 493.91 L689.0 493.91 L689.5 493.91 L689.7 493.91 L690.0 492.98 L690.5 490.94 L691.0 488.53 L691.5 485.83 L692.0 482.91 L692.5 479.82 L693.0 476.65 L693.5 473.46 L694.0 470.32 L694.5 467.29 L695.0 464.45 L695.5 461.86 L696.0 459.59 L696.5 457.71 L696.6 457.48 L697.0 457.48 L697.5 457.48 L698.0 457.48 L698.5 457.48 L698.6 457.48 L699.0 458.32 L699.5 459.64 L700.0 461.16 L700.5 462.86 L701.0 464.69 L701.5 466.61 L702.0 468.58 L702.5 470.56 L703.0 472.52 L703.5 474.4 L704.0 476.19 L704.5 477.82 L705.0 479.27 L705.5 480.49 L705.7 480.87 L706.0 480.87 L706.5 480.87 L707.0 480.87 L707.5 480.87 L708.0 480.87 L708.0 480.87 L708.5 480.22 L709.0 479.36 L709.5 478.37 L710.0 477.28 L710.5 476.11 L711.0 474.9 L711.5 473.68 L712.0 472.47 L712.5 471.31 L713.0 470.23 L713.5 469.25 L714.0 468.41 L714.4 467.85 L714.5 467.85 L715.0 467.84 L715.5 467.83 L716.0 467.82 L716.5 467.81 L717.0 467.81 L717.5 467.8 L718.0 467.79 L718.5 467.78 L719.0 467.77 L719.5 467.76 L719.8 467.76 L720.0 467.54 L720.5 466.72 L721.0 465.71 L721.5 464.58 L722.0 463.35 L722.5 462.09 L723.0 460.82 L723.5 459.6 L724.0 458.48 L724.5 457.49 L725.0 456.68 L725.1 456.5 L725.5 456.5 L726.0 456.5 L726.5 456.5 L727.0 456.5 L727.5 456.5 L727.8 456.5 L728.0 456.66 L728.5 457.12 L729.0 457.66 L729.5 458.28 L730.0 458.94 L730.5 459.64 L731.0 460.34 L731.5 461.03 L732.0 461.69 L732.5 462.3 L733.0 462.84 L733.5 463.28 L733.7 463.4 L734.0 463.4 L734.5 463.4 L735.0 463.4 L735.5 463.4 L736.0 463.4 L736.5 463.4 L736.5 463.39 L737.0 463.08 L737.5 462.71 L738.0 462.29 L738.5 461.83 L739.0 461.33 L739.5 460.81 L740.0 460.27 L740.5 459.74 L741.0 459.2 L741.5 458.68 L742.0 458.19 L742.5 457.73 L743.0 457.32 L743.5 456.95 L743.8 456.78 L744.0 456.76 L744.5 456.72 L745.0 456.68 L745.5 456.65 L746.0 456.62 L746.5 456.59 L747.0 456.56 L747.5 456.53 L748.0 456.5 L748.5 456.48 L749.0 456.45 L749.5 456.42 L750.0 456.39 L750.5 456.36 L751.0 456.33 L751.5 456.29 L752.0 456.26 L752.5 456.22 L752.5 456.19 L753.0 455.78 L753.5 455.32 L754.0 454.82 L754.5 454.28 L755.0 453.7 L755.5 453.09 L756.0 452.45 L756.5 451.79 L757.0 451.11 L757.5 450.42 L758.0 449.71 L758.5 449 L759.0 448.29 L759.5 447.58 L760.0 446.88 L760.5 446.18 L761.0 445.5 L761.5 444.84 L762.0 444.2 L762.5 443.59 L763.0 443.01 L763.5 442.47 L764.0 441.96 L764.5 441.5 L765.0 441.09 L765.3 440.9 L765.5 440.9 L766.0 440.9 L766.5 440.9 L767.0 440.9 L767.5 440.9 L767.5 440.92 L768.0 442.75 L768.5 444.91 L769.0 447.34 L769.5 450 L770.0 452.85 L770.5 455.85 L771.0 458.94 L771.5 462.08 L772.0 465.23 L772.5 468.34 L772.7 469.57 L773.0 472.2 L773.5 476.94 L774.0 482.01 L774.5 487.3 L775.0 492.71 L775.5 498.13 L776.0 503.44 L776.5 508.54 L777.0 513.31 L777.5 517.66 L778.0 521.46 L778.5 524.35 L778.5 524.35 L779.0 524.35 L779.5 524.35 L779.7 524.35 L780.0 522.44 L780.5 518.52 L781.0 513.97 L781.5 508.9 L782.0 503.45 L782.5 497.73 L783.0 491.88 L783.5 486.01 L784.0 480.25 L784.5 474.73 L785.0 469.57 L785.5 465.09 L786.0 460.43 L786.5 455.72 L787.0 451.13 L787.5 446.79 L788.0 442.87 L788.5 439.5 L788.9 437.54 L789.0 437.54 L789.5 437.54 L790.0 437.54 L790.5 437.54 L790.7 437.54 L791.0 437.93 L791.5 438.91 L792.0 440.1 L792.5 441.41 L793.0 442.77 L793.5 444.07 L794.0 445.23 L794.5 446.17 L794.7 446.43 L795.0 446.43 L795.5 446.43 L796.0 446.43 L796.5 446.43 L797.0 446.43 L797.2 446.43 L797.5 445.93 L798.0 444.92 L798.5 443.72 L799.0 442.37 L799.5 440.93 L800.0 439.44 L800.5 437.94 L801.0 436.49 L801.5 435.12 L802.0 433.88 L802.5 432.83 L802.9 432.15 L803.0 432.15 L803.5 432.15 L804.0 432.15 L804.5 432.15 L805.0 432.15 L805.4 432.15 L805.5 432.27 L806.0 433.03 L806.5 433.95 L807.0 435 L807.5 436.15 L808.0 437.37 L808.5 438.62 L809.0 439.86 L809.5 441.08 L810.0 442.22 L810.5 443.27 L811.0 444.18 L811.5 444.93 L811.6 445.01 L812.0 445.01 L812.5 445.01 L813.0 445.01 L813.5 445.01 L814.0 445.01 L814.1 445.01 L814.5 444.46 L815.0 443.57 L815.5 442.52 L816.0 441.36 L816.5 440.12 L817.0 438.85 L817.5 437.58 L818.0 436.37 L818.5 435.24 L819.0 434.23 L819.5 433.4 L819.7 433.1 L820.0 433.1 L820.5 433.1 L821.0 433.1 L821.5 433.1 L822.0 433.1 L822.3 433.1 L822.5 433.29 L823.0 433.88 L823.5 434.56 L824.0 435.32 L824.5 436.16 L825.0 437.04 L825.5 437.98 L826.0 438.94 L826.5 439.93 L827.0 440.91 L827.5 441.89 L828.0 442.85 L828.5 443.78 L829.0 444.66 L829.5 445.48 L830.0 446.23 L830.5 446.9 L831.0 447.47 L831.1 447.57 L831.5 447.57 L832.0 447.57 L832.5 447.57 L833.0 447.57 L833.5 447.57 L833.8 447.57 L834.0 447.4 L834.5 446.94 L835.0 446.4 L835.5 445.8 L836.0 445.15 L836.5 444.46 L837.0 443.73 L837.5 442.98 L838.0 442.23 L838.5 441.48 L839.0 440.74 L839.5 440.04 L840.0 439.36 L840.5 438.74 L841.0 438.18 L841.5 437.69 L841.9 437.35 L842.0 437.35 L842.5 437.35 L843.0 437.35 L843.5 437.35 L844.0 437.35 L844.4 437.35 L844.5 437.5 L845.0 438.97 L845.5 440.86 L846.0 443 L846.5 445.24 L847.0 447.4 L847.5 449.33 L848.0 450.86 L848.1 451.16 L848.5 451.16 L849.0 451.16 L849.5 451.16 L850.0 451.16 L850.5 451.16 L850.7 451.16 L851.0 450.94 L851.5 450.52 L852.0 450.03 L852.5 449.47 L853.0 448.88 L853.5 448.25 L854.0 447.62 L854.5 446.99 L855.0 446.37 L855.5 445.79 L856.0 445.26 L856.5 444.8 L857.0 444.41 L857.1 444.35 L857.5 444.35 L858.0 444.35 L858.5 444.35 L859.0 444.35 L859.5 444.35 L859.8 444.35 L860.0 444.59 L860.5 445.37 L861.0 446.32 L861.5 447.39 L862.0 448.54 L862.5 449.74 L863.0 450.95 L863.5 452.13 L864.0 453.24 L864.5 454.23 L865.0 455.08 L865.4 455.6 L865.5 455.6 L866.0 455.6 L866.5 455.6 L867.0 455.6 L867.5 455.6 L867.9 455.6 L868.0 455.37 L868.5 454.43 L869.0 453.33 L869.5 452.09 L870.0 450.73 L870.5 449.28 L871.0 447.76 L871.5 446.21 L872.0 444.63 L872.5 443.07 L873.0 441.53 L873.5 440.06 L874.0 438.67 L874.5 437.38 L875.0 436.23 L875.5 435.24 L875.8 434.7 L876.0 434.7 L876.5 434.7 L877.0 434.7 L877.5 434.7 L878.0 434.7 L878.0 434.8 L878.5 436.6 L879.0 438.83 L879.5 441.41 L880.0 444.23 L880.5 447.2 L881.0 450.23 L881.5 453.23 L882.0 456.09 L882.5 458.73 L883.0 461.06 L883.5 462.97 L883.7 463.45 L884.0 463.45 L884.5 463.45 L885.0 463.45 L885.5 463.45 L885.7 463.45 L886.0 462.89 L886.5 461.59 L887.0 460.06 L887.5 458.33 L888.0 456.47 L888.5 454.51 L889.0 452.5 L889.5 450.5 L890.0 448.55 L890.5 446.7 L891.0 444.99 L891.5 443.48 L892.0 442.22 L892.2 441.79 L892.5 441.79 L893.0 441.79 L893.5 441.79 L894.0 441.79 L894.5 441.79 L894.6 441.79 L895.0 442.42 L895.5 443.33 L896.0 444.4 L896.5 445.58 L897.0 446.84 L897.5 448.15 L898.0 449.47 L898.5 450.77 L899.0 452.01 L899.5 453.16 L900.0 454.18 L900.5 455.04 L900.8 455.41 L901.0 455.41 L901.5 455.41 L902.0 455.41 L902.5 455.41 L903.0 455.41 L903.3 455.41 L903.5 455.18 L904.0 454.38 L904.5 453.41 L905.0 452.32 L905.5 451.14 L906.0 449.93 L906.5 448.74 L907.0 447.61 L907.5 446.6 L908.0 445.74 L908.3 445.3 L908.5 445.3 L909.0 445.3 L909.5 445.3 L910.0 445.3 L910.5 445.3 L910.9 445.3 L911.0 445.42 L911.5 446.24 L912.0 447.26 L912.5 448.43 L913.0 449.69 L913.5 451 L914.0 452.3 L914.5 453.54 L915.0 454.68 L915.5 455.65 L916.0 456.36 L916.0 456.36 L916.5 456.36 L917.0 456.36 L917.5 456.36 L918.0 456.36 L918.5 456.36 L918.5 456.36 L919.0 455.63 L919.5 454.7 L920.0 453.62 L920.5 452.43 L921.0 451.17 L921.5 449.89 L922.0 448.62 L922.5 447.41 L923.0 446.29 L923.5 445.31 L924.0 444.51 L924.1 444.35 L924.5 444.35 L925.0 444.35 L925.5 444.35 L926.0 444.35 L926.5 444.35 L926.7 444.35 L927.0 444.74 L927.5 445.49 L928.0 446.35 L928.5 447.32 L929.0 448.37 L929.5 449.47 L930.0 450.62 L930.5 451.77 L931.0 452.91 L931.5 454.03 L932.0 455.09 L932.5 456.07 L933.0 456.96 L933.5 457.73 L933.9 458.24 L934.0 458.24 L934.5 458.24 L935.0 458.24 L935.5 458.24 L936.0 458.24 L936.5 458.24 L936.5 458.24 L937.0 457.73 L937.5 457.09 L938.0 456.36 L938.5 455.55 L939.0 454.68 L939.5 453.76 L940.0 452.82 L940.5 451.87 L941.0 450.92 L941.5 450 L942.0 449.11 L942.5 448.27 L943.0 447.5 L943.5 446.82 L944.0 446.24 L944.2 446.05 L944.5 446.05 L945.0 446.05 L945.5 446.05 L946.0 446.05 L946.5 446.05 L946.9 446.05 L947.0 446.16 L947.5 446.64 L948.0 447.21 L948.5 447.86 L949.0 448.57 L949.5 449.32 L950.0 450.11 L950.5 450.93 L951.0 451.75 L951.5 452.58 L952.0 453.39 L952.5 454.18 L953.0 454.92 L953.5 455.62 L954.0 456.25 L954.5 456.81 L955.0 457.28 L955.0 457.3 L955.5 457.3 L956.0 457.3 L956.5 457.3 L957.0 457.3 L957.5 457.3 L957.7 457.3 L958.0 456.92 L958.5 456.27 L959.0 455.54 L959.5 454.73 L960.0 453.86 L960.5 452.93 L961.0 451.95 L961.5 450.93 L962.0 449.89 L962.5 448.82 L963.0 447.74 L963.5 446.65 L964.0 445.58 L964.5 444.51 L965.0 443.47 L965.5 442.46 L966.0 441.5 L966.5 440.58 L967.0 439.72 L967.5 438.93 L968.0 438.22 L968.5 437.59 L968.7 437.35 L969.0 437.35 L969.5 437.35 L970.0 437.35 L970.5 437.35 L970.5 437.44 L971.0 441.49 L971.5 446.34 L972.0 451.85 L972.5 457.91 L973.0 464.37 L973.5 471.11 L974.0 478 L974.5 484.91 L974.7 487.65 L975.0 493.8 L975.3 500 L975.5 502.95 L976.0 510.45 L976.5 517.99 L977.0 525.41 L977.5 532.57 L978.0 539.29 L978.5 545.44 L979.0 550.85 L979.5 555.36 L979.5 555.65 L980.0 555.65 L980.4 555.65 L980.5 554.5 L981.0 548.94 L981.5 542.27 L982.0 534.73 L982.5 526.56 L983.0 518 L983.5 509.29 L984.0 500.68 L984.3 495.65 L984.5 491.51 L985.0 480.57 L985.5 469.49 L986.0 459.13 L986.5 451.63 L987.0 444.56 L987.5 439.48 L987.5 439.48 L988.0 439.48 L988.5 439.48 L988.8 439.48 L989.0 439.81 L989.5 441.15 L990.0 442.83 L990.5 444.7 L991.0 446.61 L991.5 448.41 L992.0 449.95 L992.4 450.92 L992.5 450.92 L993.0 450.92 L993.5 450.92 L994.0 450.92 L994.5 450.92 L994.7 450.92 L995.0 450.08 L995.5 448.48 L996.0 446.6 L996.5 444.49 L997.0 442.22 L997.5 439.86 L998.0 437.48 L998.5 435.13 L999.0 432.89 L999.5 430.82 L1000.0 428.99 L1000.5 427.46 L1000.7 426.9 L1001.0 426.9 L1001.5 426.9 L1002.0 426.9 L1002.5 426.9 L1002.8 426.9 L1003.0 427.47 L1003.5 429.16 L1004.0 431.19 L1004.5 433.48 L1005.0 435.96 L1005.5 438.56 L1006.0 441.21 L1006.5 443.85 L1007.0 446.39 L1007.5 448.77 L1008.0 450.91 L1008.5 452.75 L1008.9 453.99 L1009.0 453.99 L1009.5 453.99 L1010.0 453.99 L1010.5 453.99 L1011.0 453.99 L1011.0 453.92 L1011.5 452.41 L1012.0 450.52 L1012.5 448.34 L1013.0 445.95 L1013.5 443.44 L1014.0 440.89 L1014.5 438.38 L1015.0 436 L1015.5 433.83 L1016.0 431.96 L1016.5 430.46 L1016.5 430.44 L1017.0 430.44 L1017.5 430.44 L1018.0 430.44 L1018.5 430.44 L1018.6 430.44 L1019.0 431.51 L1019.5 433.29 L1020.0 435.39 L1020.5 437.71 L1021.0 440.14 L1021.5 442.6 L1022.0 444.97 L1022.5 447.15 L1023.0 449.05 L1023.5 450.56 L1023.5 450.68 L1024.0 450.68 L1024.5 450.68 L1025.0 450.68 L1025.5 450.68 L1025.9 450.68 L1026.0 450.53 L1026.5 449.73 L1027.0 448.74 L1027.5 447.61 L1028.0 446.38 L1028.5 445.09 L1029.0 443.79 L1029.5 442.51 L1030.0 441.3 L1030.5 440.2 L1031.0 439.25 L1031.5 438.49 L1031.5 438.49 L1032.0 438.49 L1032.5 438.49 L1033.0 438.49 L1033.5 438.49 L1034.0 438.49 L1034.1 438.49 L1034.5 438.91 L1035.0 439.54 L1035.5 440.26 L1036.0 441.06 L1036.5 441.93 L1037.0 442.84 L1037.5 443.78 L1038.0 444.73 L1038.5 445.69 L1039.0 446.62 L1039.5 447.52 L1040.0 448.37 L1040.5 449.15 L1041.0 449.85 L1041.5 450.45 L1041.8 450.73 L1042.0 450.73 L1042.5 450.73 L1043.0 450.73 L1043.5 450.73 L1044.0 450.73 L1044.5 450.73 L1044.7 450.73 L1045.0 450.69 L1045.5 450.62 L1046.0 450.54 L1046.5 450.45 L1047.0 450.35 L1047.5 450.25 L1048.0 450.14 L1048.5 450.03 L1049.0 449.92 L1049.5 449.81 L1049.6 449.78 L1050.0 449.63 L1050.5 449.4 L1051.0 449.15 L1051.5 448.89 L1052.0 448.61 L1052.5 448.33 L1053.0 448.05 L1053.5 447.77 L1054.0 447.49 L1054.5 447.23 L1055.0 446.98 L1055.5 446.74 L1056.0 446.53 L1056.5 446.35 L1056.8 446.24 L1057.0 446.24 L1057.5 446.24 L1058.0 446.24 L1058.5 446.24 L1059.0 446.24 L1059.5 446.24 L1059.6 446.24 L1060.0 446.89 L1060.5 447.98 L1061.0 449.26 L1061.5 450.65 L1062.0 452.06 L1062.5 453.4 L1063.0 454.57 L1063.5 455.49 L1063.6 455.6 L1064.0 455.6 L1064.5 455.6 L1065.0 455.6 L1065.5 455.6 L1066.0 455.6 L1066.3 455.6 L1066.5 455.54 L1067.0 455.34 L1067.5 455.11 L1068.0 454.86 L1068.5 454.58 L1069.0 454.28 L1069.5 453.97 L1070.0 453.65 L1070.5 453.31 L1071.0 452.96 L1071.5 452.61 L1072.0 452.26 L1072.5 451.91 L1073.0 451.56 L1073.5 451.22 L1074.0 450.88 L1074.5 450.56 L1075.0 450.25 L1075.5 449.96 L1076.0 449.69 L1076.5 449.44 L1077.0 449.22 L1077.5 449.03 L1077.5 449.03 L1078.0 449.03 L1078.5 449.03 L1079.0 449.03 L1079.5 449.03 L1080.0 449.03 L1080.5 449.03 L1080.5 449.03 L1081.0 449.25 L1081.5 449.54 L1082.0 449.87 L1082.5 450.23 L1083.0 450.6 L1083.5 450.96 L1084.0 451.3 L1084.5 451.59 L1085.0 451.83 L1085.1 451.87 L1085.5 451.87 L1086.0 451.87 L1086.5 451.87 L1087.0 451.87 L1087.5 451.87 L1087.9 451.87 L1088.0 451.77 L1088.5 451.16 L1089.0 450.42 L1089.5 449.59 L1090.0 448.67 L1090.5 447.69 L1091.0 446.67 L1091.5 445.62 L1092.0 444.56 L1092.5 443.5 L1093.0 442.48 L1093.5 441.49 L1094.0 440.57 L1094.5 439.73 L1095.0 438.98 L1095.5 438.35 L1095.6 438.2 L1096.0 438.2 L1096.5 438.2 L1097.0 438.2 L1097.5 438.2 L1098.0 438.2 L1098.0 438.2 L1098.5 439.27 L1099.0 440.68 L1099.5 442.3 L1100.0 444.1 L1100.5 446.03 L1101.0 448.04 L1101.5 450.1 L1102.0 452.17 L1102.5 454.2 L1103.0 456.15 L1103.5 457.98 L1104.0 459.65 L1104.5 461.12 L1105.0 462.34 L1105.1 462.5 L1105.5 462.5 L1106.0 462.5 L1106.5 462.5 L1107.0 462.5 L1107.2 462.5 L1107.5 461.84 L1108.0 460.32 L1108.5 458.53 L1109.0 456.51 L1109.5 454.33 L1110.0 452.04 L1110.5 449.69 L1111.0 447.34 L1111.5 445.03 L1112.0 442.84 L1112.5 440.8 L1113.0 438.98 L1113.5 437.43 L1113.8 436.59 L1114.0 436.59 L1114.5 436.59 L1115.0 436.59 L1115.5 436.59 L1116.0 436.59 L1116.0 436.62 L1116.5 437.92 L1117.0 439.55 L1117.5 441.42 L1118.0 443.48 L1118.5 445.64 L1119.0 447.83 L1119.5 449.97 L1120.0 451.99 L1120.5 453.82 L1121.0 455.37 L1121.4 456.36 L1121.5 456.36 L1122.0 456.36 L1122.5 456.36 L1123.0 456.36 L1123.5 456.36 L1123.7 456.36 L1124.0 455.86 L1124.5 454.77 L1125.0 453.46 L1125.5 452 L1126.0 450.44 L1126.5 448.85 L1127.0 447.27 L1127.5 445.78 L1128.0 444.43 L1128.5 443.28 L1128.9 442.55 L1129.0 442.55 L1129.5 442.55 L1130.0 442.55 L1130.5 442.55 L1131.0 442.55 L1131.5 442.55 L1131.5 442.55 L1132.0 442.89 L1132.5 443.3 L1133.0 443.77 L1133.5 444.29 L1134.0 444.84 L1134.5 445.43 L1135.0 446.04 L1135.5 446.67 L1136.0 447.31 L1136.5 447.96 L1137.0 448.6 L1137.5 449.24 L1138.0 449.86 L1138.5 450.46 L1139.0 451.03 L1139.5 451.57 L1140.0 452.06 L1140.5 452.5 L1141.0 452.89 L1141.2 453.04 L1141.5 453.04 L1142.0 453.04 L1142.5 453.04 L1143.0 453.04 L1143.5 453.04 L1144.0 453.04 L1144.1 453.04 L1144.5 452.88 L1145.0 452.66 L1145.5 452.4 L1146.0 452.12 L1146.5 451.81 L1147.0 451.49 L1147.5 451.15 L1148.0 450.8 L1148.5 450.44 L1149.0 450.07 L1149.5 449.69 L1150.0 449.32 L1150.5 448.95 L1151.0 448.58 L1151.5 448.22 L1152.0 447.87 L1152.5 447.53 L1153.0 447.21 L1153.5 446.91 L1154.0 446.64 L1154.5 446.39 L1155.0 446.16 L1155.3 446.05 L1155.5 446.05 L1156.0 446.05 L1156.5 446.05 L1157.0 446.05 L1157.5 446.05 L1158.0 446.05 L1158.2 446.05 L1158.5 446.19 L1159.0 446.46 L1159.5 446.77 L1160.0 447.11 L1160.5 447.48 L1161.0 447.87 L1161.5 448.28 L1162.0 448.7 L1162.5 449.12 L1163.0 449.56 L1163.5 449.98 L1164.0 450.4 L1164.5 450.81 L1165.0 451.2 L1165.5 451.57 L1166.0 451.91 L1166.5 452.21 L1166.5 452.24 L1167.0 452.35 L1167.5 452.47 L1168.0 452.59 L1168.5 452.7 L1169.0 452.82 L1169.5 452.93 L1170.0 453.04 L1170.5 453.14 L1171.0 453.24 L1171.5 453.35 L1172.0 453.44 L1172.5 453.53 L1173.0 453.62 L1173.5 453.71 L1174.0 453.79 L1174.5 453.86 L1175.0 453.93 L1175.5 454 L1175.9 454.04 L1176.0 454.04 L1176.5 454.04 L1177.0 454.04 L1177.5 454.04 L1178.0 454.04 L1178.5 454.04 L1178.9 454.04 L1179.0 453.96 L1179.5 453.65 L1180.0 453.29 L1180.5 452.88 L1181.0 452.44 L1181.5 451.96 L1182.0 451.46 L1182.5 450.94 L1183.0 450.41 L1183.5 449.87 L1184.0 449.32 L1184.5 448.78 L1185.0 448.25 L1185.5 447.74 L1186.0 447.24 L1186.5 446.78 L1187.0 446.34 L1187.5 445.95 L1188.0 445.6 L1188.5 445.3 L1188.5 445.3 L1189.0 445.3 L1189.5 445.3 L1190.0 445.3 L1190.5 445.3 L1191.0 445.3 L1191.4 445.3 L1191.5 445.37 L1192.0 445.68 L1192.5 446.06 L1193.0 446.49 L1193.5 446.96 L1194.0 447.45 L1194.5 447.95 L1195.0 448.44 L1195.5 448.9 L1196.0 449.32 L1196.5 449.68 L1197.0 449.97 L1197.5 449.97 L1198.0 449.97 L1198.5 449.97 L1199.0 449.97 L1199.5 449.97 L1200.0 449.97 L1200.5 449.97 L1201.0 449.97 L1201.5 449.97 L1202.0 449.97 L1202.5 449.97 L1203.0 449.97 L1203.5 449.97 L1204.0 449.97 L1204.5 449.97 L1205.0 449.97 L1205.5 449.97 L1206.0 449.97 L1206.5 449.97 L1207.0 449.97 L1207.5 449.97 L1207.9 449.97 L1208.0 449.95 L1208.5 449.86 L1209.0 449.75 L1209.5 449.62 L1210.0 449.49 L1210.5 449.34 L1211.0 449.19 L1211.5 449.03 L1212.0 448.87 L1212.5 448.71 L1213.0 448.55 L1213.5 448.39 L1214.0 448.25 L1214.5 448.11 L1215.0 447.98 L1215.5 447.87 L1216.0 447.78 L1216.1 447.76 L1216.5 447.76 L1217.0 447.76 L1217.5 447.76 L1218.0 447.76 L1218.5 447.76 L1219.0 447.76 L1219.2 447.76 L1219.5 447.83 L1220.0 447.97 L1220.5 448.13 L1221.0 448.31 L1221.5 448.51 L1222.0 448.72 L1222.5 448.94 L1223.0 449.16 L1223.5 449.39 L1224.0 449.62 L1224.5 449.84 L1225.0 450.07 L1225.5 450.28 L1226.0 450.48 L1226.5 450.67 L1227.0 450.85 L1227.5 451 L1228.0 451.13 L1228.1 451.16 L1228.5 451.16 L1229.0 451.16 L1229.5 451.16 L1230.0 451.16 L1230.5 451.16 L1231.0 451.16 L1231.1 451.16 L1231.5 451.02 L1232.0 450.8 L1232.5 450.56 L1233.0 450.28 L1233.5 449.99 L1234.0 449.68 L1234.5 449.35 L1235.0 449.02 L1235.5 448.68 L1236.0 448.34 L1236.5 448 L1237.0 447.67 L1237.5 447.35 L1238.0 447.05 L1238.5 446.77 L1239.0 446.51 L1239.5 446.28 L1240.0 446.09 L1240.1 446.05 L1240.5 446.05 L1241.0 446.05 L1241.5 446.05 L1242.0 446.05 L1242.5 446.05 L1243.0 446.05 L1243.0 446.06 L1243.5 446.47 L1244.0 446.98 L1244.5 447.58 L1245.0 448.23 L1245.5 448.92 L1246.0 449.63 L1246.5 450.34 L1247.0 451.03 L1247.5 451.67 L1248.0 452.24 L1248.5 452.74 L1248.9 453.04 L1249.0 453.04 L1249.5 453.04 L1250.0 453.04 L1250.5 453.04 L1251.0 453.04 L1251.5 453.04 L1251.8 453.04 L1252.0 452.98 L1252.5 452.76 L1253.0 452.49 L1253.5 452.18 L1254.0 451.88 L1254.5 451.59 L1255.0 451.36 L1255.3 451.25 L1255.5 451.25 L1256.0 451.25 L1256.5 451.25 L1257.0 451.25 L1257.5 451.25 L1258.0 451.25 L1258.2 451.25 L1258.5 451.67 L1259.0 452.61 L1259.5 453.71 L1260.0 454.83 L1260.5 455.81 L1260.9 456.36 L1261.0 456.36 L1261.5 456.36 L1262.0 456.36 L1262.5 456.36 L1263.0 456.36 L1263.5 456.36 L1263.6 456.36 L1264.0 455.88 L1264.5 455.23 L1265.0 454.48 L1265.5 453.66 L1266.0 452.76 L1266.5 451.82 L1267.0 450.84 L1267.5 449.84 L1268.0 448.84 L1268.5 447.84 L1269.0 446.87 L1269.5 445.94 L1270.0 445.06 L1270.5 444.25 L1271.0 443.52 L1271.5 442.89 L1271.8 442.55 L1272.0 442.55 L1272.5 442.55 L1273.0 442.55 L1273.5 442.55 L1274.0 442.55 L1274.4 442.55 L1274.5 442.65 L1275.0 443.3 L1275.5 444.08 L1276.0 444.95 L1276.5 445.9 L1277.0 446.92 L1277.5 448 L1278.0 449.11 L1278.5 450.24 L1279.0 451.37 L1279.5 452.48 L1280.0 453.57 L1280.5 454.61 L1281.0 455.59 L1281.5 456.48 L1282.0 457.28 L1282.5 457.97 L1282.7 458.24 L1283.0 458.24 L1283.5 458.24 L1284.0 458.24 L1284.5 458.24 L1285.0 458.24 L1285.3 458.24 L1285.5 457.97 L1286.0 457.25 L1286.5 456.41 L1287.0 455.48 L1287.5 454.46 L1288.0 453.37 L1288.5 452.24 L1289.0 451.07 L1289.5 449.89 L1290.0 448.71 L1290.5 447.54 L1291.0 446.42 L1291.5 445.35 L1292.0 444.34 L1292.5 443.43 L1293.0 442.62 L1293.5 441.93 L1293.6 441.79 L1294.0 441.79 L1294.5 441.79 L1295.0 441.79 L1295.5 441.79 L1296.0 441.79 L1296.2 441.79 L1296.5 442.12 L1297.0 442.76 L1297.5 443.52 L1298.0 444.36 L1298.5 445.28 L1299.0 446.25 L1299.5 447.24 L1300.0 448.25 L1300.5 449.25 L1301.0 450.22 L1301.5 451.14 L1302.0 451.99 L1302.5 452.76 L1303.0 453.41 L1303.3 453.8 L1303.5 453.8 L1304.0 453.8 L1304.5 453.8 L1305.0 453.8 L1305.5 453.8 L1306.0 453.8 L1306.1 453.8 L1306.5 453.56 L1307.0 453.22 L1307.5 452.82 L1308.0 452.38 L1308.5 451.91 L1309.0 451.4 L1309.5 450.88 L1310.0 450.34 L1310.5 449.8 L1311.0 449.26 L1311.5 448.73 L1312.0 448.21 L1312.5 447.72 L1313.0 447.26 L1313.5 446.84 L1314.0 446.47 L1314.5 446.15 L1314.7 446.05 L1315.0 446.05 L1315.5 446.05 L1316.0 446.05 L1316.5 446.05 L1317.0 446.05 L1317.5 446.05 L1317.5 446.05 L1318.0 446.46 L1318.5 446.97 L1319.0 447.57 L1319.5 448.22 L1320.0 448.91 L1320.5 449.62 L1321.0 450.33 L1321.5 451.01 L1322.0 451.65 L1322.5 452.23 L1323.0 452.73 L1323.4 453.04 L1323.5 453.04 L1324.0 453.04 L1324.5 453.04 L1325.0 453.04 L1325.5 453.04 L1326.0 453.04 L1326.2 453.04 L1326.5 452.76 L1327.0 452.27 L1327.5 451.71 L1328.0 451.08 L1328.5 450.41 L1329.0 449.7 L1329.5 448.95 L1330.0 448.18 L1330.5 447.39 L1331.0 446.6 L1331.5 445.81 L1332.0 445.04 L1332.5 444.29 L1333.0 443.57 L1333.5 442.89 L1334.0 442.26 L1334.5 441.69 L1335.0 441.19 L1335.4 440.85 L1335.5 440.85 L1336.0 440.85 L1336.5 440.85 L1337.0 440.85 L1337.5 440.85 L1338.0 440.85 L1338.1 440.85 L1338.5 441.37 L1339.0 442.07 L1339.5 442.87 L1340.0 443.75 L1340.5 444.7 L1341.0 445.7 L1341.5 446.74 L1342.0 447.8 L1342.5 448.87 L1343.0 449.92 L1343.5 450.96 L1344.0 451.95 L1344.5 452.89 L1345.0 453.75 L1345.5 454.53 L1346.0 455.2 L1346.3 455.6 L1346.5 455.6 L1347.0 455.6 L1347.5 455.6 L1348.0 455.6 L1348.5 455.6 L1349.0 455.6 L1349.0 455.6 L1349.5 455.11 L1350.0 454.49 L1350.5 453.77 L1351.0 452.98 L1351.5 452.14 L1352.0 451.28 L1352.5 450.42 L1353.0 449.59 L1353.5 448.8 L1354.0 448.09 L1354.5 447.47 L1355.0 447 L1355.0 447 L1355.5 447 L1356.0 447 L1356.5 447 L1357.0 447 L1357.5 447 L1357.7 447 L1358.0 447.22 L1358.5 447.72 L1359.0 448.31 L1359.5 448.98 L1360.0 449.7 L1360.5 450.44 L1361.0 451.2 L1361.5 451.94 L1362.0 452.65 L1362.5 453.3 L1363.0 453.87 L1363.5 454.34 L1363.6 454.46 L1364.0 454.46 L1364.5 454.46 L1365.0 454.46 L1365.5 454.46 L1366.0 454.46 L1366.5 454.46 L1366.5 454.46 L1367.0 454.18 L1367.5 453.84 L1368.0 453.43 L1368.5 452.99 L1369.0 452.52 L1369.5 452.04 L1370.0 451.57 L1370.5 451.11 L1371.0 450.68 L1371.5 450.3 L1372.0 449.98 L1372.3 449.83 L1372.5 449.83 L1373.0 449.83 L1373.5 449.83 L1374.0 449.83 L1374.5 449.83 L1375.0 449.83 L1375.3 449.83 L1375.5 449.87 L1376.0 449.96 L1376.5 450.07 L1377.0 450.19 L1377.5 450.33 L1378.0 450.47 L1378.5 450.61 L1379.0 450.75 L1379.5 450.88 L1380.0 451 L1380.5 451.1 L1380.9 451.16 L1381.0 451.16 L1381.5 451.16 L1382.0 451.16 L1382.5 451.16 L1383.0 451.16 L1383.5 451.16 L1383.9 451.16 L1384.0 451.13 L1384.5 450.96 L1385.0 450.76 L1385.5 450.53 L1386.0 450.29 L1386.5 450.02 L1387.0 449.75 L1387.5 449.46 L1388.0 449.17 L1388.5 448.88 L1389.0 448.58 L1389.5 448.29 L1390.0 448.01 L1390.5 447.74 L1391.0 447.49 L1391.1 447.42 L1391.5 447.27 L1392.0 447.07 L1392.5 446.86 L1393.0 446.65 L1393.5 446.44 L1394.0 446.23 L1394.5 446.02 L1395.0 445.81 L1395.5 445.61 L1396.0 445.42 L1396.5 445.23 L1397.0 445.05 L1397.5 444.88 L1398.0 444.72 L1398.5 444.58 L1399.0 444.45 L1399.4 444.35 L1399.5 444.35 L1400.0 444.35 L1400.5 444.35 L1401.0 444.35 L1401.5 444.35 L1402.0 444.35 L1402.4 444.35 L1402.5 444.38 L1403.0 444.57 L1403.5 444.78 L1404.0 445.03 L1404.5 445.29 L1405.0 445.57 L1405.5 445.87 L1406.0 446.18 L1406.5 446.51 L1407.0 446.84 L1407.5 447.17 L1408.0 447.51 L1408.5 447.85 L1409.0 448.19 L1409.5 448.52 L1410.0 448.84 L1410.5 449.16 L1411.0 449.46 L1411.5 449.74 L1412.0 450 L1412.5 450.24 L1413.0 450.46 L1413.5 450.65 L1413.6 450.68 L1414.0 450.68 L1414.5 450.68 L1415.0 450.68 L1415.5 450.68 L1416.0 450.68 L1416.4 450.68 L1416.5 450.62 L1417.0 450.13 L1417.5 449.55 L1418.0 448.88 L1418.5 448.14 L1419.0 447.36 L1419.5 446.54 L1420.0 445.71 L1420.5 444.88 L1421.0 444.06 L1421.5 443.28 L1422.0 442.56 L1422.5 441.9 L1423.0 441.32 L1423.5 440.85 L1423.5 440.85 L1424.0 440.85 L1424.5 440.85 L1425.0 440.85 L1425.5 440.85 L1426.0 440.85 L1426.2 440.85 L1426.5 441.29 L1427.0 442.03 L1427.5 442.89 L1428.0 443.84 L1428.5 444.88 L1429.0 445.97 L1429.5 447.09 L1430.0 448.22 L1430.5 449.35 L1431.0 450.43 L1431.5 451.47 L1432.0 452.43 L1432.5 453.29 L1433.0 454.03 L1433.3 454.46 L1433.5 454.46 L1434.0 454.46 L1434.5 454.46 L1435.0 454.46 L1435.5 454.46 L1436.0 454.46 L1436.0 454.41 L1436.5 453.77 L1437.0 452.98 L1437.5 452.08 L1438.0 451.09 L1438.5 450.04 L1439.0 448.96 L1439.5 447.88 L1440.0 446.83 L1440.5 445.84 L1441.0 444.94 L1441.5 444.16 L1442.0 443.52 L1442.0 443.5 L1442.5 443.5 L1443.0 443.5 L1443.5 443.5 L1444.0 443.5 L1444.5 443.5 L1444.7 443.5 L1445.0 443.79 L1445.5 444.37 L1446.0 445.04 L1446.5 445.78 L1447.0 446.59 L1447.5 447.45 L1448.0 448.33 L1448.5 449.21 L1449.0 450.09 L1449.5 450.94 L1450.0 451.75 L1450.5 452.49 L1451.0 453.16 L1451.5 453.72 L1451.8 453.99 L1452.0 453.99 L1452.5 453.99 L1453.0 453.99 L1453.5 453.99 L1454.0 453.99 L1454.4 453.99 L1454.5 453.91 L1455.0 453.27 L1455.5 452.5 L1456.0 451.63 L1456.5 450.66 L1457.0 449.64 L1457.5 448.57 L1458.0 447.48 L1458.5 446.38 L1459.0 445.31 L1459.5 444.28 L1460.0 443.31 L1460.5 442.42 L1461.0 441.64 L1461.5 440.99 L1461.6 440.85 L1462.0 440.85 L1462.5 440.85 L1463.0 440.85 L1463.5 440.85 L1464.0 440.85 L1464.3 440.85 L1464.5 441.05 L1465.0 441.55 L1465.5 442.14 L1466.0 442.79 L1466.5 443.51 L1467.0 444.27 L1467.5 445.07 L1468.0 445.88 L1468.5 446.71 L1469.0 447.53 L1469.5 448.34 L1470.0 449.12 L1470.5 449.86 L1471.0 450.54 L1471.5 451.16 L1472.0 451.7 L1472.4 452.1 L1472.5 452.1 L1473.0 452.1 L1473.5 452.1 L1474.0 452.1 L1474.5 452.1 L1475.0 452.1 L1475.2 452.1 L1475.5 451.98 L1476.0 451.73 L1476.5 451.45 L1477.0 451.15 L1477.5 450.82 L1478.0 450.48 L1478.5 450.11 L1479.0 449.73 L1479.5 449.34 L1480.0 448.93 L1480.5 448.51 L1481.0 448.08 L1481.5 447.64 L1482.0 447.19 L1482.5 446.75 L1483.0 446.29 L1483.5 445.84 L1484.0 445.39 L1484.5 444.94 L1485.0 444.49 L1485.5 444.05 L1486.0 443.62 L1486.5 443.2 L1487.0 442.79 L1487.5 442.39 L1488.0 442 L1488.5 441.63 L1489.0 441.28 L1489.5 440.95 L1490.0 440.64 L1490.5 440.36 L1491.0 440.09 L1491.4 439.9 L1491.5 439.9 L1492.0 439.9 L1492.5 439.9 L1493.0 439.9 L1493.5 439.9 L1494.0 439.9 L1494.2 439.9 L1494.5 440.15 L1495.0 440.62 L1495.5 441.15 L1496.0 441.73 L1496.5 442.37 L1497.0 443.03 L1497.5 443.73 L1498.0 444.45 L1498.5 445.17 L1499.0 445.89 L1499.5 446.61 L1500.0 447.3 L1500.5 447.97 L1501.0 448.59 L1501.5 449.17 L1501.5 449.22 L1502.0 449.54 L1502.5 449.89 L1503.0 450.25 L1503.5 450.6 L1504.0 450.95 L1504.5 451.3 L1505.0 451.65 L1505.5 451.99 L1506.0 452.33 L1506.5 452.66 L1507.0 452.99 L1507.5 453.3 L1508.0 453.61 L1508.5 453.9 L1509.0 454.18 L1509.5 454.46 L1510.0 454.71 L1510.5 454.96 L1511.0 455.18 L1511.5 455.39 L1512.0 455.59 L1512.0 455.6 L1512.5 455.6 L1513.0 455.6 L1513.5 455.6 L1514.0 455.6 L1514.5 455.6 L1514.7 455.6 L1515.0 454.99 L1515.5 454 L1516.0 452.88 L1516.5 451.64 L1517.0 450.31 L1517.5 448.88 L1518.0 447.39 L1518.5 445.84 L1519.0 444.24 L1519.5 442.62 L1520.0 440.98 L1520.5 439.34 L1521.0 437.71 L1521.5 436.11 L1522.0 434.56 L1522.5 433.05 L1523.0 431.62 L1523.5 430.28 L1524.0 429.03 L1524.5 427.9 L1525.0 426.89 L1525.4 426.19 L1525.5 426.19 L1526.0 426.19 L1526.5 426.19 L1527.0 426.19 L1527.5 426.19 L1527.7 426.19 L1528.0 426.89 L1528.5 428.08 L1529.0 429.46 L1529.5 430.99 L1530.0 432.65 L1530.5 434.4 L1531.0 436.24 L1531.5 438.12 L1532.0 440.03 L1532.5 441.94 L1533.0 443.83 L1533.5 445.66 L1534.0 447.41 L1534.5 449.07 L1535.0 450.59 L1535.5 451.96 L1536.0 453.15 L1536.3 453.8 L1536.5 453.8 L1537.0 453.8 L1537.5 453.8 L1538.0 453.8 L1538.5 453.8 L1538.9 453.8 L1539.0 453.74 L1539.5 453.48 L1540.0 453.18 L1540.5 452.86 L1541.0 452.5 L1541.5 452.13 L1542.0 451.73 L1542.5 451.31 L1543.0 450.87 L1543.5 450.43 L1544.0 449.97 L1544.5 449.51 L1545.0 449.04 L1545.5 448.58 L1546.0 448.11 L1546.5 447.65 L1547.0 447.21 L1547.5 446.77 L1548.0 446.35 L1548.5 445.94 L1549.0 445.56 L1549.5 445.21 L1550.0 444.87 L1550.5 444.57 L1551.0 444.31 L1551.2 444.21 L1551.5 444.21 L1552.0 444.21 L1552.5 444.21 L1553.0 444.21 L1553.5 444.21 L1554.0 444.21 L1554.2 444.21 L1554.5 444.21 L1555.0 444.22 L1555.5 444.23 L1556.0 444.25 L1556.5 444.26 L1557.0 444.27 L1557.5 444.29 L1558.0 444.31 L1558.5 444.32 L1559.0 444.34 L1559.2 444.35 L1559.5 444.64 L1560.0 445.18 L1560.5 445.8 L1561.0 446.49 L1561.5 447.23 L1562.0 448.02 L1562.5 448.83 L1563.0 449.65 L1563.5 450.46 L1564.0 451.26 L1564.5 452.02 L1565.0 452.73 L1565.5 453.38 L1566.0 453.95 L1566.5 454.42 L1566.5 454.46 L1567.0 454.46 L1567.5 454.46 L1568.0 454.46 L1568.5 454.46 L1569.0 454.46 L1569.1 454.46 L1569.5 453.78 L1570.0 452.76 L1570.5 451.59 L1571.0 450.28 L1571.5 448.87 L1572.0 447.41 L1572.5 445.9 L1573.0 444.4 L1573.5 442.93 L1574.0 441.53 L1574.5 440.22 L1575.0 439.05 L1575.5 438.03 L1575.9 437.35 L1576.0 437.35 L1576.5 437.35 L1577.0 437.35 L1577.5 437.35 L1578.0 437.35 L1578.3 437.35 L1578.5 437.74 L1579.0 438.82 L1579.5 440.1 L1580.0 441.54 L1580.5 443.11 L1581.0 444.77 L1581.5 446.48 L1582.0 448.21 L1582.5 449.92 L1583.0 451.58 L1583.5 453.14 L1584.0 454.58 L1584.5 455.85 L1585.0 456.93 L1585.2 457.3 L1585.5 457.3 L1586.0 457.3 L1586.5 457.3 L1587.0 457.3 L1587.5 457.3 L1587.6 457.3 L1588.0 456.72 L1588.5 455.83 L1589.0 454.8 L1589.5 453.66 L1590.0 452.43 L1590.5 451.13 L1591.0 449.79 L1591.5 448.44 L1592.0 447.11 L1592.5 445.81 L1593.0 444.57 L1593.5 443.42 L1594.0 442.38 L1594.5 441.48 L1594.9 440.85 L1595.0 440.85 L1595.5 440.85 L1596.0 440.85 L1596.5 440.85 L1597.0 440.85 L1597.4 440.85 L1597.5 440.94 L1598.0 441.62 L1598.5 442.42 L1599.0 443.33 L1599.5 444.32 L1600.0 445.39 L1600.5 446.51 L1601.0 447.67 L1601.5 448.85 L1602.0 450.04 L1602.5 451.21 L1603.0 452.34 L1603.5 453.43 L1604.0 454.46 L1604.5 455.4 L1605.0 456.25 L1605.5 456.98 L1605.8 457.3 L1606.0 457.3 L1606.5 457.3 L1607.0 457.3 L1607.5 457.3 L1608.0 457.3 L1608.4 457.3 L1608.5 457.21 L1609.0 456.73 L1609.5 456.16 L1610.0 455.51 L1610.5 454.81 L1611.0 454.06 L1611.5 453.27 L1612.0 452.45 L1612.5 451.63 L1613.0 450.8 L1613.5 449.99 L1614.0 449.21 L1614.5 448.46 L1615.0 447.76 L1615.5 447.13 L1616.0 446.57 L1616.5 446.1 L1616.6 446.05 L1617.0 446.05 L1617.5 446.05 L1618.0 446.05 L1618.5 446.05 L1619.0 446.05 L1619.5 446.05 L1619.5 446.05 L1620.0 446.15 L1620.5 446.28 L1621.0 446.41 L1621.5 446.53 L1621.8 446.57 L1622.0 446.57 L1622.5 446.57 L1623.0 446.57 L1623.5 446.57 L1624.0 446.57 L1624.5 446.57 L1624.8 446.57 L1625.0 446.47 L1625.5 446.1 L1626.0 445.65 L1626.5 445.14 L1627.0 444.63 L1627.5 444.15 L1628.0 443.74 L1628.4 443.5 L1628.5 443.5 L1629.0 443.5 L1629.5 443.5 L1630.0 443.5 L1630.5 443.5 L1631.0 443.5 L1631.2 443.5 L1631.5 443.88 L1632.0 444.57 L1632.5 445.38 L1633.0 446.29 L1633.5 447.26 L1634.0 448.29 L1634.5 449.36 L1635.0 450.43 L1635.5 451.49 L1636.0 452.53 L1636.5 453.51 L1637.0 454.42 L1637.5 455.24 L1638.0 455.94 L1638.4 456.36 L1638.5 456.36 L1639.0 456.36 L1639.5 456.36 L1640.0 456.36 L1640.5 456.36 L1641.0 456.36 L1641.0 456.36 L1641.5 456.01 L1642.0 455.57 L1642.5 455.07 L1643.0 454.53 L1643.5 453.94 L1644.0 453.32 L1644.5 452.67 L1645.0 452 L1645.5 451.31 L1646.0 450.61 L1646.5 449.91 L1647.0 449.22 L1647.5 448.53 L1648.0 447.86 L1648.5 447.22 L1649.0 446.61 L1649.5 446.03 L1650.0 445.5 L1650.5 445.02 L1651.0 444.59 L1651.3 444.35 L1651.5 444.35 L1652.0 444.35 L1652.5 444.35 L1653.0 444.35 L1653.5 444.35 L1654.0 444.35 L1654.2 444.35 L1654.5 444.51 L1655.0 444.79 L1655.5 445.11 L1656.0 445.47 L1656.5 445.85 L1657.0 446.26 L1657.5 446.69 L1658.0 447.13 L1658.5 447.58 L1659.0 448.03 L1659.5 448.48 L1660.0 448.92 L1660.5 449.34 L1661.0 449.75 L1661.5 450.13 L1662.0 450.47 L1662.5 450.79 L1663.0 451.06 L1663.2 451.16 L1663.5 451.16 L1664.0 451.16 L1664.5 451.16 L1665.0 451.16 L1665.5 451.16 L1666.0 451.16 L1666.1 451.16 L1666.5 450.87 L1667.0 450.45 L1667.5 449.97 L1668.0 449.43 L1668.5 448.85 L1669.0 448.25 L1669.5 447.62 L1670.0 446.99 L1670.5 446.37 L1671.0 445.76 L1671.5 445.19 L1672.0 444.66 L1672.5 444.18 L1673.0 443.76 L1673.4 443.5 L1673.5 443.5 L1674.0 443.5 L1674.5 443.5 L1675.0 443.5 L1675.5 443.5 L1676.0 443.5 L1676.2 443.5 L1676.5 443.83 L1677.0 444.41 L1677.5 445.09 L1678.0 445.85 L1678.5 446.67 L1679.0 447.53 L1679.5 448.4 L1680.0 449.27 L1680.5 450.12 L1681.0 450.92 L1681.5 451.66 L1682.0 452.32 L1682.5 452.87 L1682.7 453.04 L1683.0 453.04 L1683.5 453.04 L1684.0 453.04 L1684.5 453.04 L1685.0 453.04 L1685.4 453.04 L1685.5 452.98 L1686.0 452.51 L1686.5 451.93 L1687.0 451.26 L1687.5 450.54 L1688.0 449.77 L1688.5 448.97 L1689.0 448.17 L1689.5 447.38 L1690.0 446.62 L1690.5 445.91 L1691.0 445.27 L1691.5 444.72 L1691.9 444.35 L1692.0 444.35 L1692.5 444.35 L1693.0 444.35 L1693.5 444.35 L1694.0 444.35 L1694.5 444.35 L1694.7 444.35 L1695.0 444.63 L1695.5 445.16 L1696.0 445.78 L1696.5 446.48 L1697.0 447.23 L1697.5 448.01 L1698.0 448.79 L1698.5 449.56 L1699.0 450.29 L1699.5 450.96 L1700.0 451.54 L1700.5 452.02 L1700.6 452.1 L1701.0 452.1 L1701.5 452.1 L1702.0 452.1 L1702.5 452.1 L1703.0 452.1 L1703.4 452.1 L1703.5 452.07 L1704.0 451.78 L1704.5 451.44 L1705.0 451.05 L1705.5 450.63 L1706.0 450.18 L1706.5 449.71 L1707.0 449.21 L1707.5 448.71 L1708.0 448.2 L1708.5 447.68 L1709.0 447.18 L1709.5 446.69 L1710.0 446.21 L1710.5 445.77 L1711.0 445.35 L1711.5 444.97 L1712.0 444.64 L1712.5 444.35 L1712.5 444.35 L1713.0 444.35 L1713.5 444.35 L1714.0 444.35 L1714.5 444.35 L1715.0 444.35 L1715.4 444.35 L1715.5 444.42 L1716.0 444.75 L1716.5 445.14 L1717.0 445.57 L1717.5 446.04 L1718.0 446.55 L1718.5 447.08 L1719.0 447.63 L1719.5 448.2 L1720.0 448.77 L1720.5 449.34 L1721.0 449.9 L1721.5 450.45 L1722.0 450.98 L1722.5 451.47 L1723.0 451.94 L1723.5 452.36 L1724.0 452.73 L1724.5 453.04 L1724.5 453.04 L1725.0 453.04 L1725.5 453.04 L1726.0 453.04 L1726.5 453.04 L1727.0 453.04 L1727.4 453.04 L1727.5 452.97 L1728.0 452.7 L1728.5 452.39 L1729.0 452.05 L1729.5 451.69 L1730.0 451.3 L1730.5 450.88 L1731.0 450.45 L1731.5 450 L1732.0 449.54 L1732.5 449.06 L1733.0 448.58 L1733.5 448.09 L1734.0 447.61 L1734.5 447.12 L1735.0 446.64 L1735.5 446.16 L1736.0 445.69 L1736.5 445.24 L1737.0 444.8 L1737.5 444.39 L1738.0 443.99 L1738.5 443.62 L1739.0 443.27 L1739.5 442.96 L1740.0 442.68 L1740.3 442.55 L1740.5 442.55 L1741.0 442.55 L1741.5 442.55 L1742.0 442.55 L1742.5 442.55 L1743.0 442.55 L1743.1 442.55 L1743.5 442.74 L1744.0 443.03 L1744.5 443.36 L1745.0 443.71 L1745.5 444.1 L1746.0 444.51 L1746.5 444.94 L1747.0 445.39 L1747.5 445.86 L1748.0 446.33 L1748.5 446.81 L1749.0 447.3 L1749.5 447.78 L1750.0 448.26 L1750.5 448.74 L1751.0 449.2 L1751.5 449.66 L1752.0 450.09 L1752.5 450.5 L1753.0 450.89 L1753.5 451.25 L1754.0 451.58 L1754.5 451.88 L1754.9 452.1 L1755.0 452.1 L1755.5 452.1 L1756.0 452.1 L1756.5 452.1 L1757.0 452.1 L1757.5 452.1 L1757.8 452.1 L1758.0 452.03 L1758.5 451.76 L1759.0 451.43 L1759.5 451.06 L1760.0 450.66 L1760.5 450.23 L1761.0 449.79 L1761.5 449.34 L1762.0 448.9 L1762.5 448.47 L1763.0 448.07 L1763.5 447.7 L1764.0 447.37 L1764.5 447.09 L1764.7 447 L1765.0 447 L1765.5 447 L1766.0 447 L1766.5 447 L1767.0 447 L1767.5 447 L1767.6 447 L1768.0 447.18 L1768.5 447.44 L1769.0 447.75 L1769.5 448.09 L1770.0 448.46 L1770.5 448.85 L1771.0 449.26 L1771.5 449.69 L1772.0 450.14 L1772.1 450.26"/></g>
</g>
<g stroke="#000" stroke-width="6" stroke-linecap="round" stroke-linejoin="round" fill="#000" shape-rendering="crispEdges">
<line x1="1191.8" y1="293.3" x2="1051.5" y2="383.6" stroke-width="7"/>
<polygon points="1015.8,406.9 1044.1,372.8 1059,395"/>
<line x1="1194.6" y1="732.5" x2="1032.1" y2="649.7" stroke-width="7"/>
<polygon points="993.9,629.9 1038.1,638 1026.1,660.9"/>
</g>
<g font-family="'Liberation Sans', Arial, Helvetica, sans-serif" fill="#000" stroke="#000" stroke-width="0.3" stroke-linejoin="round" style="font-kerning:none" filter="url(#hard)">
<text transform="translate(261.2 1072.4) scale(1 1.02)" font-size="76.9" text-anchor="middle">0</text>
<text transform="translate(463.2 1072.4) scale(1 1.02)" font-size="76.9" text-anchor="middle">2</text>
<text transform="translate(664.2 1072.4) scale(1 1.02)" font-size="76.9" text-anchor="middle">4</text>
<text transform="translate(865.2 1072.4) scale(1 1.02)" font-size="76.9" text-anchor="middle">6</text>
<text transform="translate(1067.2 1072.4) scale(1 1.02)" font-size="76.9" text-anchor="middle">8</text>
<text transform="translate(1266.2 1072.4) scale(1 1.02)" font-size="76.9" text-anchor="middle" dx="4 -4">10</text>
<text transform="translate(1468.2 1072.4) scale(1 1.02)" font-size="76.9" text-anchor="middle" dx="4 -4">12</text>
<text transform="translate(1669.2 1072.4) scale(1 1.02)" font-size="76.9" text-anchor="middle" dx="4 -4">14</text>
<text transform="translate(230.3 72.4) scale(1 1.02)" font-size="76.9" text-anchor="end" dx="4 -4">10</text>
<text transform="translate(234.3 540.4) scale(1 1.02)" font-size="76.9" text-anchor="end">0</text>
<text transform="translate(234.3 1008.4) scale(1 1.02)" font-size="76.9" text-anchor="end" dx="0 4 -4" dy="1.5 -1.5 0">-10</text>
<text transform="translate(871.8 1148.9)" font-size="75.3">time t/s</text>
<text transform="translate(86.1 861.5) rotate(-90)" font-size="75.7">Tracking Error e/mm</text>
<text transform="translate(1219.9 300.8) scale(1 1.04)" font-size="83.9">DSC</text>
<text transform="translate(1119.0 833.9) scale(1 1.04)" font-size="84.1">TDDSC</text>
</g>
</svg>
</body>
</html>
